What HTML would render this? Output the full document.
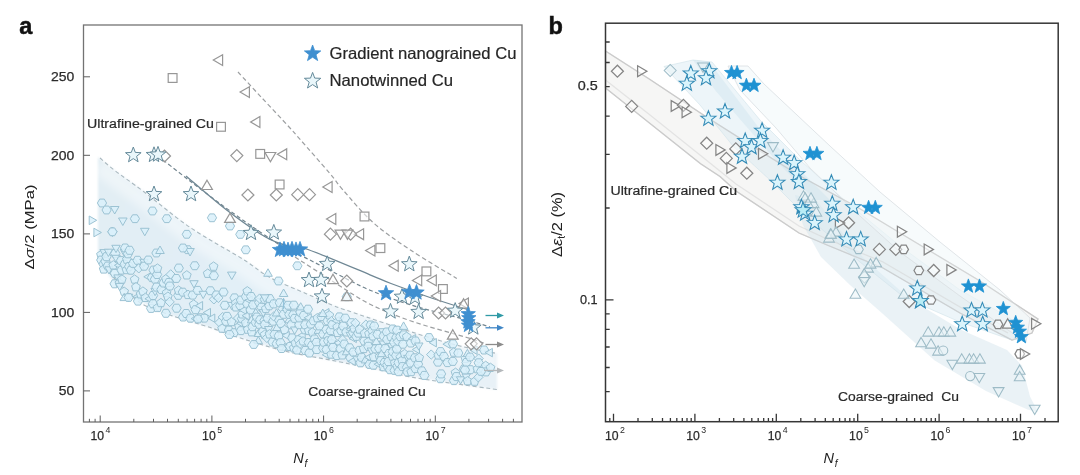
<!DOCTYPE html>
<html lang="en"><head><meta charset="utf-8"><title>Fatigue of gradient nanograined Cu</title>
<style>
html,body{margin:0;padding:0;background:#fff;}
body{width:1080px;height:475px;overflow:hidden;font-family:"Liberation Sans",sans-serif;}
svg{display:block;font-family:"Liberation Sans",sans-serif;filter:blur(.45px);}
.bandA{filter:blur(1.2px);}
.haloA{fill:none;stroke:#fff;stroke-opacity:.42;stroke-width:17;filter:blur(4px);}
.frame{fill:none;stroke:#737373;stroke-width:1.3;}
.frame2{fill:none;stroke:#363636;stroke-width:1.5;}
.tick{fill:none;stroke:#5e5e5e;stroke-width:1;}
.tick2{fill:none;stroke:#363636;stroke-width:1.3;}
.tl{font-size:13px;fill:#2b2b2b;stroke:#2b2b2b;stroke-width:.25;}
.nf{font-size:14.5px;font-style:italic;fill:#222;}
.nfs{font-size:10px;font-style:italic;fill:#222;}
.sup{font-size:8.8px;fill:#2b2b2b;stroke:none;}
.al{font-size:13px;fill:#222;}
.al2{font-size:15.5px;fill:#222;}
.sub2{font-size:10px;}
.it{font-style:italic;}
.sub{font-size:9px;}
.pl{font-size:23.5px;font-weight:bold;fill:#111;stroke:#111;stroke-width:0.5;}
.an{font-size:12.5px;fill:#2a2a2a;stroke:#2a2a2a;stroke-width:.2;}
.lg{font-size:16.5px;fill:#262626;stroke:#262626;stroke-width:.2;}
.dashA{fill:none;stroke:#9c9fa1;stroke-width:1.2;stroke-dasharray:4.5 2.8;}
.dashA2{fill:none;stroke:#a9b8bf;stroke-width:1.1;stroke-dasharray:4 2.8;}
.dashA3{fill:none;stroke:#72858f;stroke-width:1.2;stroke-dasharray:4 2.6;}
.solidA{fill:none;stroke:#6f8794;stroke-width:1.3;}
.stemA{fill:none;stroke:#8fc0d9;stroke-width:1;}
.lb .m{fill:#d9f0fa;fill-opacity:.85;stroke:#98c0d1;stroke-width:.95;}
.gr .m{fill:#fff;fill-opacity:.55;stroke:#979797;stroke-width:1.2;}
.gr2 .m{fill:#fff;fill-opacity:.45;stroke:#858585;stroke-width:1.25;}
.lb2 .m{fill:#e9f4f8;fill-opacity:.55;stroke:#9dbbc6;stroke-width:1.05;}
.osA .m,.osL{fill:#eaf7fb;stroke:#658a9a;stroke-width:1;}
.fsA .m,.fsL{fill:#3f8fd0;stroke:#3f8fd0;stroke-width:.8;stroke-linejoin:round;}
.csB{fill:#b9ecf5;stroke:#348bb6;stroke-width:1.05;}
.osB .m{fill:#daf4fc;stroke:#348bb6;stroke-width:1.05;}
.fsB .m{fill:#1f92d2;stroke:#1f92d2;stroke-width:.8;stroke-linejoin:round;}
.bGrey{fill:#f1f1ef;fill-opacity:.62;stroke:#cbcbcb;stroke-opacity:.9;stroke-width:1.25;}
.bGreyLine{fill:none;stroke:#c6c6c6;stroke-opacity:.55;stroke-width:1.2;}
.bGreyLine2{fill:none;stroke:#d2d2d2;stroke-opacity:.5;stroke-width:1.2;}
.bBlue{fill:#d6e9f2;fill-opacity:.45;stroke:#d0e2ea;stroke-opacity:.6;stroke-width:1;}
.bBlue2{fill:#d5e6ee;fill-opacity:.5;stroke:none;}
.bBlue4{fill:#c5dfec;fill-opacity:.35;stroke:none;}
.bBlue3{fill:#f1f7fa;fill-opacity:.55;stroke:#d9dfe2;stroke-opacity:.8;stroke-width:1;}
</style></head>
<body>
<svg width="1080" height="475" viewBox="0 0 1080 475">
<defs>
<linearGradient id="bandA" x1="0" y1="0" x2="1" y2="0.35">
<stop offset="0" stop-color="#e2eef4" stop-opacity="1"/>
<stop offset=".5" stop-color="#e2eff7" stop-opacity="1"/>
<stop offset="1" stop-color="#e8f1f7" stop-opacity="1"/>
</linearGradient>
</defs>
<rect x="0" y="0" width="1080" height="475" fill="#fff"/>
<g id="panel-a">
<path class="bandA" d="M98 157 C100.8 159.2 106.8 164.5 114.5 170.3 C122.2 176.1 131.6 182.5 144.2 192 C156.8 201.5 173.6 216.2 190 227.4 C206.4 238.6 229.3 250.7 242.6 259 C255.9 267.4 259.3 271.7 270 277.5 C280.7 283.3 296.5 289.3 306.8 293.9 C317.1 298.5 324.2 301.9 331.9 305 C339.6 308.1 339 307.8 353 312.5 C367 317.2 398.2 327.8 416 333.4 C433.8 339 446.5 342.6 460 346 C473.5 349.4 490.8 352.2 497 353.5 L497 389.5 L450 383 L410 376.8 L377.4 369.5 L335.3 361 L282.6 350.5 L230 334.7 L209.7 327.3 L170 315 L135.6 299.5 L112 280 L98 258Z" fill="url(#bandA)"/>
<path class="haloA" d="M99 166 C101.8 168.2 107.8 173.5 115.5 179.3 C123.2 185.1 132.6 191.5 145.2 201 C157.8 210.5 174.6 225.2 191 236.4 C207.4 247.6 230.3 259.6 243.6 268 C256.9 276.4 260.3 280.7 271 286.5 C281.7 292.3 297.5 298.3 307.8 302.9 C318.1 307.5 325.2 310.9 332.9 314 C340.6 317.1 340 316.8 354 321.5 C368 326.2 399.2 336.8 417 342.4 C434.8 348 447.5 351.6 461 355 C474.5 358.4 491.8 361.2 498 362.5"/>
<path class="dashA" d="M238 72 C242 76.3 253.3 88.7 262 98 C270.7 107.3 283.6 121 290 128 C296.4 135 293.9 132.4 300.6 140 C307.3 147.6 322.9 165.3 330 173.6 C337.1 181.9 335.8 181.8 343 190 C350.2 198.2 362 212.7 373.4 222.8 C384.8 232.9 397.4 241.3 411.3 250.6 C425.2 259.9 449.2 273.8 456.8 278.4"/>
<path class="dashA2" d="M100 158 C102.4 160.1 107.1 164.6 114.5 170.3 C121.9 176 131.6 182.5 144.2 192 C156.8 201.5 173.6 216.2 190 227.4 C206.4 238.6 229.3 250.7 242.6 259 C255.9 267.4 259.3 271.7 270 277.5 C280.7 283.3 296.5 289.3 306.8 293.9 C317.1 298.5 324.2 301.9 331.9 305 C339.6 308.1 339 307.8 353 312.5 C367 317.2 398.2 327.8 416 333.4 C433.8 339 446.5 342.6 460 346 C473.5 349.4 490.8 352.2 497 353.5"/>
<path class="dashA2" d="M100 262 C105.9 268.2 123.9 290.7 135.6 299.5 C147.3 308.3 157.7 310.4 170 315 C182.3 319.6 199.7 324 209.7 327.3 C219.7 330.6 217.8 330.8 230 334.7 C242.2 338.6 265.1 346.1 282.6 350.5 C300.2 354.9 319.5 357.8 335.3 361 C351.1 364.2 364.9 366.9 377.4 369.5 C389.8 372.1 397.9 374.6 410 376.8 C422.1 379.1 435.5 380.9 450 383 C464.5 385.1 489.2 388.4 497 389.5"/>
<path class="dashA" d="M295 257 C301.9 261.4 323.8 275.7 336.3 283.6 C348.8 291.5 357.6 298 370 304.2 C382.4 310.4 394.9 315.4 411 321 C427.1 326.6 454.3 333.7 466.8 337.5 C479.3 341.3 482.8 342.8 486 343.8"/>
<path class="dashA3" d="M158 156 C163.3 160.2 178.7 172.3 190 181 C201.3 189.7 214.3 199.5 226 208 C237.7 216.5 250.2 225.3 260 232 C269.8 238.7 277.7 243.8 285 248 C292.3 252.2 295.2 252.7 303.9 257 C312.6 261.3 326 268.5 337 274 C348 279.5 357.7 285 370 290.2 C382.3 295.4 394.9 300 411 305 C427.1 310 453.6 316.3 466.8 320 C480 323.7 486.1 325.8 490 327"/>
<path class="solidA" d="M186 176 C192.7 181.6 212.7 199.3 226 209.5 C239.3 219.7 255.3 231.1 266 237.3 C276.7 243.5 283 244.5 290 246.5 C297 248.5 294.7 244.8 308 249.5 C321.3 254.2 356.2 269.1 370 274.8 C383.8 280.5 381 279.7 391 283.5 C401 287.3 417.3 293.2 430 297.5 C442.7 301.8 460.8 307.4 467 309.4"/>
<g class="lb">
<polygon class="m" points="101,250.3 105.4,253.4 103.7,258.6 98.3,258.6 96.6,253.4"/>
<polygon class="m" points="105.8,260 103.5,264 98.9,264 96.6,260 98.9,256.1 103.5,256.1"/>
<polygon class="m" points="108.2,264.1 105.9,268.1 101.2,268.1 98.9,264.1 101.2,260.1 105.9,260.1"/>
<polygon class="m" points="103.7,264.7 108.1,267.9 106.4,273.1 101,273.1 99.3,267.9"/>
<polygon class="m" points="104.1,256.8 99.9,249.6 108.3,249.6"/>
<polygon class="m" points="110.1,261.2 107.8,265.2 103.2,265.2 100.9,261.2 103.2,257.2 107.8,257.2"/>
<polygon class="m" points="111.1,256.7 108.8,260.7 104.1,260.7 101.8,256.7 104.1,252.7 108.8,252.7"/>
<polygon class="m" points="112.3,266.1 110,270.1 105.4,270.1 103.1,266.1 105.4,262.1 110,262.1"/>
<polygon class="m" points="108.4,256.5 104.2,249.2 112.6,249.2"/>
<polygon class="m" points="109,274 104.8,266.8 113.1,266.8"/>
<polygon class="m" points="113.3,260.7 117.6,263.9 116,269 110.5,269 108.9,263.9"/>
<polygon class="m" points="119.2,283.8 116.9,287.8 112.3,287.8 110,283.8 112.3,279.8 116.9,279.8"/>
<polygon class="m" points="119.4,273.3 117.1,277.3 112.5,277.3 110.2,273.3 112.5,269.4 117.1,269.4"/>
<polygon class="m" points="119.9,253.4 117.6,257.4 112.9,257.4 110.6,253.4 112.9,249.4 117.6,249.4"/>
<polygon class="m" points="116,252.6 111.8,245.3 120.2,245.3"/>
<polygon class="m" points="116.1,262.5 111.9,255.3 120.3,255.3"/>
<polygon class="m" points="118,282.1 113.8,274.9 122.2,274.9"/>
<polygon class="m" points="114.4,265.3 121.7,261.1 121.7,269.5"/>
<polygon class="m" points="119.4,278.6 123.8,281.8 122.1,286.9 116.7,286.9 115,281.8"/>
<polygon class="m" points="119.7,290.6 115.5,283.4 123.9,283.4"/>
<polygon class="m" points="125.5,260.6 123.2,264.6 118.6,264.6 116.3,260.6 118.6,256.6 123.2,256.6"/>
<polygon class="m" points="126.1,270.1 123.8,274.1 119.2,274.1 116.9,270.1 119.2,266.1 123.8,266.1"/>
<polygon class="m" points="121.9,274.9 126.2,278 124.6,283.2 119.2,283.2 117.5,278"/>
<polygon class="m" points="124.1,287 128.5,290.2 126.8,295.3 121.4,295.3 119.7,290.2"/>
<polygon class="m" points="124.2,293.4 128.4,300.6 120,300.6"/>
<polygon class="m" points="124.2,256.4 120.1,249.1 128.4,249.1"/>
<polygon class="m" points="129.2,264.3 126.9,268.3 122.3,268.3 120,264.3 122.3,260.3 126.9,260.3"/>
<polygon class="m" points="129.7,248 127.4,251.9 122.8,251.9 120.5,248 122.8,244 127.4,244"/>
<polygon class="m" points="126.5,265.4 130.9,268.6 129.2,273.7 123.8,273.7 122.1,268.6"/>
<polygon class="m" points="126.9,255 131.3,258.2 129.6,263.3 124.2,263.3 122.5,258.2"/>
<polygon class="m" points="132.6,253.8 130.3,257.8 125.7,257.8 123.4,253.8 125.7,249.8 130.3,249.8"/>
<polygon class="m" points="128.6,301.5 124.4,294.2 132.8,294.2"/>
<polygon class="m" points="133.7,266.4 131.4,270.4 126.8,270.4 124.5,266.4 126.8,262.5 131.4,262.5"/>
<polygon class="m" points="134.2,250.3 131.9,254.3 127.3,254.3 125,250.3 127.3,246.3 131.9,246.3"/>
<polygon class="m" points="135.5,270.2 133.2,274.2 128.6,274.2 126.3,270.2 128.6,266.2 133.2,266.2"/>
<polygon class="m" points="137.7,263.4 135.4,267.4 130.8,267.4 128.5,263.4 130.8,259.4 135.4,259.4"/>
<polygon class="m" points="134.6,274.9 139,278.1 137.3,283.2 131.9,283.2 130.3,278.1"/>
<polygon class="m" points="136,282.5 140.3,285.7 138.7,290.9 133.2,290.9 131.6,285.7"/>
<polygon class="m" points="133.2,296.5 140.5,292.3 140.5,300.7"/>
<polygon class="m" points="142.1,260.3 139.8,264.3 135.2,264.3 132.9,260.3 135.2,256.3 139.8,256.3"/>
<polygon class="m" points="142.6,301.1 140.3,305.1 135.7,305.1 133.4,301.1 135.7,297.1 140.3,297.1"/>
<polygon class="m" points="143.5,268.3 138.8,273 134.1,268.3 138.8,263.7"/>
<polygon class="m" points="140.6,289.6 145,292.8 143.3,298 137.9,298 136.2,292.8"/>
<polygon class="m" points="142.9,286.9 147.3,290.1 145.6,295.2 140.2,295.2 138.6,290.1"/>
<polygon class="m" points="144,266.6 139.8,259.3 148.1,259.3"/>
<polygon class="m" points="148.7,266.2 146.4,270.2 141.8,270.2 139.5,266.2 141.8,262.2 146.4,262.2"/>
<polygon class="m" points="145.4,293.2 149.8,296.4 148.1,301.5 142.7,301.5 141,296.4"/>
<polygon class="m" points="143.8,276.8 151.1,272.6 151.1,281"/>
<polygon class="m" points="144.9,298.8 152.2,294.6 152.2,303"/>
<polygon class="m" points="155.7,308.4 153.4,312.4 148.8,312.4 146.5,308.4 148.8,304.4 153.4,304.4"/>
<polygon class="m" points="156.5,277.6 154.2,281.6 149.6,281.6 147.3,277.6 149.6,273.7 154.2,273.7"/>
<polygon class="m" points="157.6,303.8 155.3,307.7 150.7,307.7 148.3,303.8 150.7,299.8 155.3,299.8"/>
<polygon class="m" points="157.7,295.5 155.4,299.5 150.7,299.5 148.4,295.5 150.7,291.5 155.4,291.5"/>
<polygon class="m" points="158.1,270.1 155.8,274.1 151.2,274.1 148.9,270.1 151.2,266.1 155.8,266.1"/>
<polygon class="m" points="159.6,279.2 157.3,283.2 152.7,283.2 150.3,279.2 152.7,275.2 157.3,275.2"/>
<polygon class="m" points="155.1,295.7 150.9,288.4 159.3,288.4"/>
<polygon class="m" points="161.2,287.1 158.9,291.1 154.3,291.1 151.9,287.1 154.3,283.1 158.9,283.1"/>
<polygon class="m" points="161.7,274.5 159.4,278.5 154.8,278.5 152.5,274.5 154.8,270.5 159.4,270.5"/>
<polygon class="m" points="157.4,263.9 161.8,267.1 160.2,272.3 154.7,272.3 153.1,267.1"/>
<polygon class="m" points="157.5,303.3 161.8,306.4 160.2,311.6 154.7,311.6 153.1,306.4"/>
<polygon class="m" points="160.9,298.4 165.3,301.6 163.6,306.7 158.2,306.7 156.5,301.6"/>
<polygon class="m" points="166,289.6 163.7,293.6 159.1,293.6 156.8,289.6 159.1,285.6 163.7,285.6"/>
<polygon class="m" points="168.2,283 165.9,287 161.3,287 159,283 161.3,279 165.9,279"/>
<polygon class="m" points="170.5,313.3 168.2,317.3 163.6,317.3 161.3,313.3 163.6,309.3 168.2,309.3"/>
<polygon class="m" points="165.9,274.5 170.3,277.7 168.7,282.8 163.2,282.8 161.6,277.7"/>
<polygon class="m" points="166.5,288.4 170.9,291.5 169.2,296.7 163.8,296.7 162.2,291.5"/>
<polygon class="m" points="167.9,292 172.2,295.2 170.6,300.3 165.1,300.3 163.5,295.2"/>
<polygon class="m" points="173.5,282.5 171.2,286.5 166.6,286.5 164.3,282.5 166.6,278.5 171.2,278.5"/>
<polygon class="m" points="174.3,301.9 169.6,306.6 164.9,301.9 169.6,297.2"/>
<polygon class="m" points="174.4,286 172.1,290 167.5,290 165.2,286 167.5,282.1 172.1,282.1"/>
<polygon class="m" points="175.4,274.4 170.7,279.1 166,274.4 170.7,269.7"/>
<polygon class="m" points="180.9,278.5 178.6,282.4 174,282.4 171.7,278.5 174,274.5 178.6,274.5"/>
<polygon class="m" points="181.2,308.2 178.9,312.2 174.3,312.2 172,308.2 174.3,304.2 178.9,304.2"/>
<polygon class="m" points="182.9,295.3 180.6,299.3 176,299.3 173.7,295.3 176,291.3 180.6,291.3"/>
<polygon class="m" points="178.6,285.9 183,289.1 181.3,294.3 175.9,294.3 174.2,289.1"/>
<polygon class="m" points="183.4,268.1 181.1,272 176.5,272 174.2,268.1 176.5,264.1 181.1,264.1"/>
<polygon class="m" points="187.4,292.1 185.1,296.1 180.5,296.1 178.2,292.1 180.5,288.2 185.1,288.2"/>
<polygon class="m" points="187.7,317.1 185.4,321 180.8,321 178.5,317.1 180.8,313.1 185.4,313.1"/>
<polygon class="m" points="190.8,313.5 188.5,317.5 183.9,317.5 181.6,313.5 183.9,309.5 188.5,309.5"/>
<polygon class="m" points="186.8,270.7 191.2,273.9 189.5,279 184.1,279 182.4,273.9"/>
<polygon class="m" points="188,290.2 192.4,293.4 190.7,298.6 185.3,298.6 183.6,293.4"/>
<polygon class="m" points="195,318.2 192.7,322.2 188.1,322.2 185.8,318.2 188.1,314.2 192.7,314.2"/>
<polygon class="m" points="197.3,295.1 195,299.1 190.4,299.1 188,295.1 190.4,291.1 195,291.1"/>
<polygon class="m" points="193.7,299.9 198,303.1 196.4,308.2 190.9,308.2 189.3,303.1"/>
<polygon class="m" points="194,288 189.8,280.7 198.2,280.7"/>
<polygon class="m" points="199.3,265.7 197,269.7 192.4,269.7 190.1,265.7 192.4,261.8 197,261.8"/>
<polygon class="m" points="191.2,318.6 198.4,314.4 198.4,322.8"/>
<polygon class="m" points="200.2,309.7 197.9,313.7 193.3,313.7 191,309.7 193.3,305.7 197.9,305.7"/>
<polygon class="m" points="202.2,290.4 199.9,294.3 195.3,294.3 193,290.4 195.3,286.4 199.9,286.4"/>
<polygon class="m" points="195.4,305.7 202.6,301.5 202.6,309.9"/>
<polygon class="m" points="205,317.8 202.7,321.7 198.1,321.7 195.8,317.8 198.1,313.8 202.7,313.8"/>
<polygon class="m" points="203.2,298.6 199,291.3 207.4,291.3"/>
<polygon class="m" points="208.9,318.2 206.6,322.1 202,322.1 199.7,318.2 202,314.2 206.6,314.2"/>
<polygon class="m" points="203.2,312.6 210.5,308.4 210.5,316.8"/>
<polygon class="m" points="207.7,269 212.1,272.2 210.4,277.4 205,277.4 203.3,272.2"/>
<polygon class="m" points="215,290.7 212.7,294.7 208.1,294.7 205.8,290.7 208.1,286.8 212.7,286.8"/>
<polygon class="m" points="207.6,318.1 214.8,314 214.8,322.3"/>
<polygon class="m" points="213.6,261.9 218,265.1 216.3,270.3 210.9,270.3 209.2,265.1"/>
<polygon class="m" points="218.5,275.7 216.2,279.7 211.6,279.7 209.2,275.7 211.6,271.7 216.2,271.7"/>
<polygon class="m" points="218.6,299.3 213.9,304 209.2,299.3 213.9,294.7"/>
<polygon class="m" points="220.9,295 218.6,299 214,299 211.7,295 214,291 218.6,291"/>
<polygon class="m" points="223,297.9 218.4,302.6 213.7,297.9 218.4,293.3"/>
<polygon class="m" points="224.2,322.5 219.5,327.2 214.8,322.5 219.5,317.8"/>
<polygon class="m" points="222.1,323.9 226.5,327.1 224.8,332.3 219.4,332.3 217.7,327.1"/>
<polygon class="m" points="227.4,317.1 222.7,321.8 218.1,317.1 222.7,312.4"/>
<polygon class="m" points="228.1,292.1 225.8,296 221.2,296 218.9,292.1 221.2,288.1 225.8,288.1"/>
<polygon class="m" points="229.4,305.3 227.1,309.3 222.5,309.3 220.2,305.3 222.5,301.3 227.1,301.3"/>
<polygon class="m" points="230.6,321.3 228.3,325.3 223.7,325.3 221.4,321.3 223.7,317.3 228.3,317.3"/>
<polygon class="m" points="231.6,316.4 229.3,320.4 224.7,320.4 222.4,316.4 224.7,312.4 229.3,312.4"/>
<polygon class="m" points="233.5,330.1 231.2,334 226.6,334 224.3,330.1 226.6,326.1 231.2,326.1"/>
<polygon class="m" points="231.4,317.4 235.8,320.6 234.1,325.7 228.7,325.7 227,320.6"/>
<polygon class="m" points="231.7,309.7 227.5,302.4 235.9,302.4"/>
<polygon class="m" points="238.6,332.6 236.3,336.6 231.7,336.6 229.4,332.6 231.7,328.7 236.3,328.7"/>
<polygon class="m" points="239.1,297.9 236.8,301.9 232.2,301.9 229.9,297.9 232.2,293.9 236.8,293.9"/>
<polygon class="m" points="235.7,298.7 240.1,301.9 238.4,307 233,307 231.3,301.9"/>
<polygon class="m" points="235.9,302.7 240.3,305.9 238.6,311 233.2,311 231.5,305.9"/>
<polygon class="m" points="242.8,318.1 238.1,322.7 233.4,318.1 238.1,313.4"/>
<polygon class="m" points="239,322.1 243.4,325.3 241.7,330.5 236.3,330.5 234.7,325.3"/>
<polygon class="m" points="244.8,305.5 242.5,309.5 237.9,309.5 235.6,305.5 237.9,301.5 242.5,301.5"/>
<polygon class="m" points="236.5,323.2 243.7,319 243.7,327.4"/>
<polygon class="m" points="245.5,300.1 243.2,304.1 238.6,304.1 236.3,300.1 238.6,296.1 243.2,296.1"/>
<polygon class="m" points="245.6,330.6 243.3,334.6 238.7,334.6 236.4,330.6 238.7,326.7 243.3,326.7"/>
<polygon class="m" points="246.6,318.7 244.3,322.7 239.7,322.7 237.4,318.7 239.7,314.7 244.3,314.7"/>
<polygon class="m" points="242.2,309.7 246.5,312.8 244.9,318 239.5,318 237.8,312.8"/>
<polygon class="m" points="239.2,310.2 246.5,306 246.5,314.4"/>
<polygon class="m" points="245.6,318.4 250,321.6 248.4,326.7 242.9,326.7 241.3,321.6"/>
<polygon class="m" points="250.5,296.6 248.2,300.6 243.6,300.6 241.3,296.6 243.6,292.6 248.2,292.6"/>
<polygon class="m" points="242.1,315.7 249.3,311.5 249.3,319.9"/>
<polygon class="m" points="251.7,303.9 249.4,307.9 244.8,307.9 242.5,303.9 244.8,299.9 249.4,299.9"/>
<polygon class="m" points="247.3,286.6 251.7,289.8 250,294.9 244.6,294.9 242.9,289.8"/>
<polygon class="m" points="247.7,325 252,328.2 250.4,333.3 245,333.3 243.3,328.2"/>
<polygon class="m" points="245,300.3 252.2,296.1 252.2,304.4"/>
<polygon class="m" points="255.1,309.9 252.8,313.9 248.2,313.9 245.9,309.9 248.2,305.9 252.8,305.9"/>
<polygon class="m" points="255.7,296.5 253.4,300.5 248.8,300.5 246.5,296.5 248.8,292.5 253.4,292.5"/>
<polygon class="m" points="251.5,315.6 255.7,322.9 247.3,322.9"/>
<polygon class="m" points="251.7,327.6 256,330.8 254.4,335.9 249,335.9 247.3,330.8"/>
<polygon class="m" points="257,326.8 254.7,330.7 250.1,330.7 247.8,326.8 250.1,322.8 254.7,322.8"/>
<polygon class="m" points="257.6,304.9 255.3,308.9 250.7,308.9 248.4,304.9 250.7,300.9 255.3,300.9"/>
<polygon class="m" points="260.2,322.3 257.9,326.3 253.3,326.3 251,322.3 253.3,318.4 257.9,318.4"/>
<polygon class="m" points="255.7,308.3 259.9,315.5 251.5,315.5"/>
<polygon class="m" points="261.5,317.1 259.2,321.1 254.6,321.1 252.3,317.1 254.6,313.1 259.2,313.1"/>
<polygon class="m" points="258.3,336.5 262.5,343.7 254.1,343.7"/>
<polygon class="m" points="258.4,329.3 262.5,336.5 254.2,336.5"/>
<polygon class="m" points="263.8,302.5 261.5,306.5 256.9,306.5 254.5,302.5 256.9,298.5 261.5,298.5"/>
<polygon class="m" points="263.8,324.3 261.5,328.3 256.9,328.3 254.6,324.3 256.9,320.3 261.5,320.3"/>
<polygon class="m" points="264.3,298.6 259.6,303.2 254.9,298.6 259.6,293.9"/>
<polygon class="m" points="264.7,319.8 262.4,323.7 257.8,323.7 255.5,319.8 257.8,315.8 262.4,315.8"/>
<polygon class="m" points="266.1,307.2 263.8,311.2 259.2,311.2 256.9,307.2 259.2,303.3 263.8,303.3"/>
<polygon class="m" points="267.2,331.7 264.9,335.7 260.3,335.7 258,331.7 260.3,327.7 264.9,327.7"/>
<polygon class="m" points="263.3,316.8 259.1,309.6 267.5,309.6"/>
<polygon class="m" points="269,320.7 266.7,324.7 262.1,324.7 259.8,320.7 262.1,316.8 266.7,316.8"/>
<polygon class="m" points="264.6,330.2 269,333.4 267.3,338.6 261.9,338.6 260.2,333.4"/>
<polygon class="m" points="269.4,324.5 267.1,328.5 262.5,328.5 260.2,324.5 262.5,320.5 267.1,320.5"/>
<polygon class="m" points="269.4,299.4 267.1,303.4 262.5,303.4 260.2,299.4 262.5,295.4 267.1,295.4"/>
<polygon class="m" points="265.8,304.3 270.2,307.5 268.5,312.6 263.1,312.6 261.4,307.5"/>
<polygon class="m" points="271.5,337.9 266.8,342.6 262.2,337.9 266.8,333.2"/>
<polygon class="m" points="272.2,318.2 269.9,322.2 265.3,322.2 263,318.2 265.3,314.2 269.9,314.2"/>
<polygon class="m" points="268.6,333.7 264.5,326.5 272.8,326.5"/>
<polygon class="m" points="273.9,305.8 271.6,309.8 267,309.8 264.7,305.8 267,301.8 271.6,301.8"/>
<polygon class="m" points="269.5,329.6 273.9,332.8 272.2,338 266.8,338 265.1,332.8"/>
<polygon class="m" points="274.2,298.6 271.9,302.6 267.3,302.6 265,298.6 267.3,294.6 271.9,294.6"/>
<polygon class="m" points="277.1,342 274.8,346 270.2,346 267.9,342 270.2,338 274.8,338"/>
<polygon class="m" points="277.8,321.2 275.5,325.2 270.9,325.2 268.5,321.2 270.9,317.2 275.5,317.2"/>
<polygon class="m" points="278.3,303.9 276,307.9 271.4,307.9 269.1,303.9 271.4,299.9 276,299.9"/>
<polygon class="m" points="278.5,316.4 273.8,321.1 269.1,316.4 273.8,311.7"/>
<polygon class="m" points="279.1,334.3 276.8,338.3 272.2,338.3 269.9,334.3 272.2,330.3 276.8,330.3"/>
<polygon class="m" points="276.5,308.7 280.6,316 272.3,316"/>
<polygon class="m" points="281.3,343.7 279,347.7 274.4,347.7 272.1,343.7 274.4,339.7 279,339.7"/>
<polygon class="m" points="276.9,323.3 281.1,330.6 272.7,330.6"/>
<polygon class="m" points="283.4,335.9 281.1,339.9 276.4,339.9 274.1,335.9 276.4,331.9 281.1,331.9"/>
<polygon class="m" points="283.7,320.2 281.4,324.2 276.8,324.2 274.5,320.2 276.8,316.2 281.4,316.2"/>
<polygon class="m" points="284.3,302.8 282,306.8 277.4,306.8 275.1,302.8 277.4,298.8 282,298.8"/>
<polygon class="m" points="285.1,342.7 282.8,346.7 278.2,346.7 275.9,342.7 278.2,338.7 282.8,338.7"/>
<polygon class="m" points="285.5,323.4 283.2,327.4 278.6,327.4 276.3,323.4 278.6,319.4 283.2,319.4"/>
<polygon class="m" points="287.3,308.8 282.6,313.4 277.9,308.8 282.6,304.1"/>
<polygon class="m" points="288.2,314.3 285.9,318.3 281.3,318.3 279,314.3 281.3,310.4 285.9,310.4"/>
<polygon class="m" points="283.8,299 288,306.3 279.6,306.3"/>
<polygon class="m" points="284.6,325.3 289,328.5 287.3,333.7 281.9,333.7 280.2,328.5"/>
<polygon class="m" points="282,335.6 289.3,331.4 289.3,339.8"/>
<polygon class="m" points="286.1,343.1 290.3,350.3 281.9,350.3"/>
<polygon class="m" points="291.5,308.7 289.2,312.7 284.6,312.7 282.3,308.7 284.6,304.7 289.2,304.7"/>
<polygon class="m" points="292.8,305.3 290.5,309.2 285.8,309.2 283.5,305.3 285.8,301.3 290.5,301.3"/>
<polygon class="m" points="289,315.6 293.2,322.8 284.8,322.8"/>
<polygon class="m" points="293.9,314.4 291.6,318.4 287,318.4 284.7,314.4 287,310.4 291.6,310.4"/>
<polygon class="m" points="294.6,346.5 292.3,350.5 287.7,350.5 285.4,346.5 287.7,342.5 292.3,342.5"/>
<polygon class="m" points="295.9,324.8 293.6,328.8 289,328.8 286.7,324.8 289,320.8 293.6,320.8"/>
<polygon class="m" points="296.7,337.9 294.4,341.9 289.8,341.9 287.5,337.9 289.8,333.9 294.4,333.9"/>
<polygon class="m" points="297.9,314.8 295.5,318.8 290.9,318.8 288.6,314.8 290.9,310.8 295.5,310.8"/>
<polygon class="m" points="298.4,305.2 296.1,309.2 291.5,309.2 289.2,305.2 291.5,301.2 296.1,301.2"/>
<polygon class="m" points="293.8,343.5 298.2,346.7 296.5,351.8 291.1,351.8 289.4,346.7"/>
<polygon class="m" points="299.2,318.4 296.9,322.4 292.3,322.4 290,318.4 292.3,314.4 296.9,314.4"/>
<polygon class="m" points="294.7,334.3 290.5,327 298.9,327"/>
<polygon class="m" points="295.3,338.6 299.7,341.8 298,346.9 292.6,346.9 290.9,341.8"/>
<polygon class="m" points="301.6,350 299.3,354 294.7,354 292.4,350 294.7,346 299.3,346"/>
<polygon class="m" points="303.3,339.7 301,343.7 296.4,343.7 294.1,339.7 296.4,335.7 301,335.7"/>
<polygon class="m" points="303.8,324.7 301.5,328.7 296.9,328.7 294.6,324.7 296.9,320.7 301.5,320.7"/>
<polygon class="m" points="303.9,317.9 301.6,321.9 297,321.9 294.7,317.9 297,313.9 301.6,313.9"/>
<polygon class="m" points="304.7,343.8 300,348.4 295.3,343.8 300,339.1"/>
<polygon class="m" points="305,312.1 302.7,316.1 298,316.1 295.7,312.1 298,308.1 302.7,308.1"/>
<polygon class="m" points="300.7,302.7 304.9,309.9 296.5,309.9"/>
<polygon class="m" points="298,335.3 305.2,331.1 305.2,339.5"/>
<polygon class="m" points="303,336.7 307.4,339.9 305.8,345 300.3,345 298.7,339.9"/>
<polygon class="m" points="308.3,315.5 306,319.5 301.4,319.5 299.1,315.5 301.4,311.5 306,311.5"/>
<polygon class="m" points="309.5,329.8 307.2,333.8 302.6,333.8 300.3,329.8 302.6,325.9 307.2,325.9"/>
<polygon class="m" points="309.7,324.8 307.4,328.8 302.8,328.8 300.5,324.8 302.8,320.8 307.4,320.8"/>
<polygon class="m" points="309.9,350.5 307.6,354.5 303,354.5 300.7,350.5 303,346.5 307.6,346.5"/>
<polygon class="m" points="304.1,317.8 311.3,313.6 311.3,322"/>
<polygon class="m" points="312.6,309.2 310.3,313.2 305.7,313.2 303.4,309.2 305.7,305.2 310.3,305.2"/>
<polygon class="m" points="313.3,342.4 311,346.4 306.4,346.4 304.1,342.4 306.4,338.5 311,338.5"/>
<polygon class="m" points="308.8,326.3 313.2,329.4 311.5,334.6 306.1,334.6 304.4,329.4"/>
<polygon class="m" points="313.9,353 311.6,357 307,357 304.7,353 307,349 311.6,349"/>
<polygon class="m" points="315.4,324.2 313.1,328.1 308.5,328.1 306.2,324.2 308.5,320.2 313.1,320.2"/>
<polygon class="m" points="316.5,345.4 314.2,349.3 309.6,349.3 307.3,345.4 309.6,341.4 314.2,341.4"/>
<polygon class="m" points="312.4,327.9 316.8,331.1 315.1,336.2 309.7,336.2 308,331.1"/>
<polygon class="m" points="318.1,320.8 315.8,324.7 311.2,324.7 308.9,320.8 311.2,316.8 315.8,316.8"/>
<polygon class="m" points="319.1,339 316.8,343 312.2,343 309.9,339 312.2,335 316.8,335"/>
<polygon class="m" points="321.1,342.4 318.8,346.4 314.2,346.4 311.9,342.4 314.2,338.4 318.8,338.4"/>
<polygon class="m" points="321.4,349.6 319.1,353.5 314.4,353.5 312.1,349.6 314.4,345.6 319.1,345.6"/>
<polygon class="m" points="317.4,313.5 321.8,316.7 320.1,321.9 314.7,321.9 313,316.7"/>
<polygon class="m" points="318.2,326.2 322.4,333.4 314,333.4"/>
<polygon class="m" points="324,325.9 321.7,329.9 317.1,329.9 314.8,325.9 317.1,321.9 321.7,321.9"/>
<polygon class="m" points="326.2,316.7 323.9,320.6 319.3,320.6 317,316.7 319.3,312.7 323.9,312.7"/>
<polygon class="m" points="327.7,334.1 325.4,338 320.8,338 318.5,334.1 320.8,330.1 325.4,330.1"/>
<polygon class="m" points="327.7,348.1 325.4,352 320.8,352 318.5,348.1 320.8,344.1 325.4,344.1"/>
<polygon class="m" points="328.4,342.2 326.1,346.2 321.5,346.2 319.2,342.2 321.5,338.2 326.1,338.2"/>
<polygon class="m" points="321.8,312.7 329,308.5 329,316.8"/>
<polygon class="m" points="322.2,354.8 329.5,350.6 329.5,358.9"/>
<polygon class="m" points="331,329.6 328.7,333.6 324.1,333.6 321.8,329.6 324.1,325.6 328.7,325.6"/>
<polygon class="m" points="331.2,349.5 328.9,353.5 324.3,353.5 322,349.5 324.3,345.5 328.9,345.5"/>
<polygon class="m" points="332.1,320.8 329.8,324.8 325.2,324.8 322.9,320.8 325.2,316.9 329.8,316.9"/>
<polygon class="m" points="332.6,336.7 330.3,340.6 325.7,340.6 323.4,336.7 325.7,332.7 330.3,332.7"/>
<polygon class="m" points="332.7,340.8 330.4,344.8 325.8,344.8 323.5,340.8 325.8,336.8 330.4,336.8"/>
<polygon class="m" points="329.3,310.7 333.7,313.9 332,319 326.6,319 324.9,313.9"/>
<polygon class="m" points="335.2,330.6 332.9,334.6 328.3,334.6 326,330.6 328.3,326.7 332.9,326.7"/>
<polygon class="m" points="331.2,349.8 335.6,353 333.9,358.2 328.5,358.2 326.8,353"/>
<polygon class="m" points="336.1,321.1 331.4,325.8 326.7,321.1 331.4,316.4"/>
<polygon class="m" points="336,343.9 333.7,347.9 329.1,347.9 326.8,343.9 329.1,339.9 333.7,339.9"/>
<polygon class="m" points="336.4,339.6 334.1,343.6 329.5,343.6 327.2,339.6 329.5,335.6 334.1,335.6"/>
<polygon class="m" points="336.8,324.7 334.5,328.7 329.9,328.7 327.6,324.7 329.9,320.7 334.5,320.7"/>
<polygon class="m" points="337.6,347.4 335.3,351.4 330.7,351.4 328.4,347.4 330.7,343.4 335.3,343.4"/>
<polygon class="m" points="332.1,320.8 339.4,316.6 339.4,325"/>
<polygon class="m" points="341.4,355.6 339.1,359.6 334.5,359.6 332.2,355.6 334.5,351.6 339.1,351.6"/>
<polygon class="m" points="337.1,322.5 341.5,325.7 339.8,330.8 334.4,330.8 332.8,325.7"/>
<polygon class="m" points="337.5,328.2 341.9,331.4 340.2,336.6 334.8,336.6 333.1,331.4"/>
<polygon class="m" points="333.9,342.9 341.2,338.8 341.2,347.1"/>
<polygon class="m" points="344,316.9 341.7,320.8 337.1,320.8 334.8,316.9 337.1,312.9 341.7,312.9"/>
<polygon class="m" points="345.1,348.8 342.8,352.8 338.1,352.8 335.8,348.8 338.1,344.8 342.8,344.8"/>
<polygon class="m" points="345.8,330.8 343.5,334.8 338.9,334.8 336.6,330.8 338.9,326.8 343.5,326.8"/>
<polygon class="m" points="342.2,350.7 346.6,353.9 344.9,359 339.5,359 337.8,353.9"/>
<polygon class="m" points="347.2,339.8 342.5,344.4 337.8,339.8 342.5,335.1"/>
<polygon class="m" points="347.7,326 345.4,330 340.8,330 338.5,326 340.8,322 345.4,322"/>
<polygon class="m" points="348.9,344.1 346.6,348 342,348 339.7,344.1 342,340.1 346.6,340.1"/>
<polygon class="m" points="349.8,318.2 347.5,322.1 342.9,322.1 340.6,318.2 342.9,314.2 347.5,314.2"/>
<polygon class="m" points="350.9,332 348.6,336 344,336 341.7,332 344,328 348.6,328"/>
<polygon class="m" points="346.5,347.6 350.7,354.8 342.3,354.8"/>
<polygon class="m" points="354.2,347.8 351.9,351.8 347.3,351.8 345,347.8 347.3,343.8 351.9,343.8"/>
<polygon class="m" points="346.3,329.5 353.6,325.3 353.6,333.7"/>
<polygon class="m" points="350.2,339.5 346,332.3 354.4,332.3"/>
<polygon class="m" points="355,357.9 352.7,361.9 348.1,361.9 345.8,357.9 348.1,353.9 352.7,353.9"/>
<polygon class="m" points="356,322.7 353.7,326.6 349.1,326.6 346.8,322.7 349.1,318.7 353.7,318.7"/>
<polygon class="m" points="348,361.2 355.3,357 355.3,365.4"/>
<polygon class="m" points="357.6,332.4 355.3,336.4 350.7,336.4 348.4,332.4 350.7,328.5 355.3,328.5"/>
<polygon class="m" points="349.1,338.4 356.4,334.2 356.4,342.6"/>
<polygon class="m" points="357.9,352.1 355.6,356.1 351,356.1 348.7,352.1 351,348.1 355.6,348.1"/>
<polygon class="m" points="354,323.8 358.4,327 356.7,332.2 351.3,332.2 349.7,327"/>
<polygon class="m" points="360.1,322.9 355.4,327.6 350.7,322.9 355.4,318.2"/>
<polygon class="m" points="360.9,336.4 358.6,340.4 354,340.4 351.7,336.4 354,332.4 358.6,332.4"/>
<polygon class="m" points="356.8,363.5 352.6,356.2 361,356.2"/>
<polygon class="m" points="362.9,333.1 360.6,337.1 355.9,337.1 353.6,333.1 355.9,329.1 360.6,329.1"/>
<polygon class="m" points="359.4,324.8 363.8,328 362.2,333.2 356.7,333.2 355.1,328"/>
<polygon class="m" points="364.1,350.4 361.8,354.4 357.2,354.4 354.9,350.4 357.2,346.4 361.8,346.4"/>
<polygon class="m" points="365,362.8 362.7,366.8 358.1,366.8 355.7,362.8 358.1,358.8 362.7,358.8"/>
<polygon class="m" points="366.3,357.3 363.9,361.3 359.3,361.3 357,357.3 359.3,353.3 363.9,353.3"/>
<polygon class="m" points="363.7,344.3 368.1,347.4 366.4,352.6 361,352.6 359.3,347.4"/>
<polygon class="m" points="368.8,341 366.5,345 361.9,345 359.6,341 361.9,337 366.5,337"/>
<polygon class="m" points="364.5,328.8 368.9,332 367.3,337.2 361.8,337.2 360.2,332"/>
<polygon class="m" points="365.3,355.6 369.5,362.9 361.1,362.9"/>
<polygon class="m" points="370.6,324.6 365.9,329.3 361.2,324.6 365.9,320"/>
<polygon class="m" points="368.2,337.4 372.5,340.6 370.9,345.8 365.5,345.8 363.8,340.6"/>
<polygon class="m" points="372.9,346.3 370.6,350.3 366,350.3 363.7,346.3 366,342.3 370.6,342.3"/>
<polygon class="m" points="364.6,357.3 371.8,353.1 371.8,361.5"/>
<polygon class="m" points="368.9,329.2 373.3,332.4 371.6,337.6 366.2,337.6 364.6,332.4"/>
<polygon class="m" points="374.1,364.4 371.8,368.4 367.2,368.4 364.9,364.4 367.2,360.4 371.8,360.4"/>
<polygon class="m" points="375.2,325 372.9,329 368.3,329 366,325 368.3,321 372.9,321"/>
<polygon class="m" points="371.3,355.2 367.2,348 375.5,348"/>
<polygon class="m" points="376.9,330.6 374.6,334.6 370,334.6 367.7,330.6 370,326.6 374.6,326.6"/>
<polygon class="m" points="372.9,331.7 377.3,334.8 375.6,340 370.2,340 368.5,334.8"/>
<polygon class="m" points="378,365.3 375.7,369.2 371.1,369.2 368.8,365.3 371.1,361.3 375.7,361.3"/>
<polygon class="m" points="373.6,352.4 378,355.6 376.3,360.7 370.9,360.7 369.2,355.6"/>
<polygon class="m" points="378.8,326 376.5,330 371.9,330 369.6,326 371.9,322.1 376.5,322.1"/>
<polygon class="m" points="380,348.9 377.7,352.9 373,352.9 370.7,348.9 373,344.9 377.7,344.9"/>
<polygon class="m" points="376.2,337.2 380.4,344.5 372,344.5"/>
<polygon class="m" points="382.1,334.3 379.8,338.3 375.2,338.3 372.9,334.3 375.2,330.3 379.8,330.3"/>
<polygon class="m" points="374.1,364.2 381.4,360 381.4,368.4"/>
<polygon class="m" points="383.8,348.4 381.5,352.4 376.9,352.4 374.6,348.4 376.9,344.4 381.5,344.4"/>
<polygon class="m" points="379.6,352.3 384,355.5 382.3,360.6 376.9,360.6 375.2,355.5"/>
<polygon class="m" points="385.4,360.5 383.1,364.5 378.5,364.5 376.2,360.5 378.5,356.5 383.1,356.5"/>
<polygon class="m" points="381.5,349.5 385.7,356.7 377.3,356.7"/>
<polygon class="m" points="382.7,335.9 378.5,328.7 386.9,328.7"/>
<polygon class="m" points="383.3,348.2 379.1,341 387.5,341"/>
<polygon class="m" points="383.5,362.4 387.9,365.6 386.2,370.8 380.8,370.8 379.1,365.6"/>
<polygon class="m" points="388.1,335.9 385.8,339.9 381.2,339.9 378.9,335.9 381.2,332 385.8,332"/>
<polygon class="m" points="389.1,362.5 386.8,366.5 382.2,366.5 379.9,362.5 382.2,358.5 386.8,358.5"/>
<polygon class="m" points="389.7,348.6 387.4,352.5 382.8,352.5 380.5,348.6 382.8,344.6 387.4,344.6"/>
<polygon class="m" points="391.5,331.9 389.1,335.9 384.5,335.9 382.2,331.9 384.5,328 389.1,328"/>
<polygon class="m" points="387.1,361 391.5,364.2 389.8,369.3 384.4,369.3 382.7,364.2"/>
<polygon class="m" points="391.8,339.4 389.5,343.4 384.8,343.4 382.5,339.4 384.8,335.4 389.5,335.4"/>
<polygon class="m" points="393,361.6 390.7,365.5 386,365.5 383.7,361.6 386,357.6 390.7,357.6"/>
<polygon class="m" points="393.6,353.5 391.3,357.5 386.7,357.5 384.4,353.5 386.7,349.5 391.3,349.5"/>
<polygon class="m" points="394.6,369.7 392.3,373.7 387.7,373.7 385.4,369.7 387.7,365.7 392.3,365.7"/>
<polygon class="m" points="391,332.3 395.4,335.4 393.7,340.6 388.3,340.6 386.6,335.4"/>
<polygon class="m" points="391.6,350.7 387.4,343.5 395.8,343.5"/>
<polygon class="m" points="392.3,351.8 396.7,355 395.1,360.2 389.6,360.2 388,355"/>
<polygon class="m" points="397.4,329 395.1,333 390.5,333 388.1,329 390.5,325 395.1,325"/>
<polygon class="m" points="397.4,351.6 395.1,355.6 390.5,355.6 388.2,351.6 390.5,347.6 395.1,347.6"/>
<polygon class="m" points="398.6,342.3 396.3,346.3 391.7,346.3 389.4,342.3 391.7,338.3 396.3,338.3"/>
<polygon class="m" points="399.2,370.4 396.9,374.4 392.3,374.4 390,370.4 392.3,366.5 396.9,366.5"/>
<polygon class="m" points="394.7,358.4 399.1,361.6 397.5,366.7 392,366.7 390.4,361.6"/>
<polygon class="m" points="400.7,355.4 398.4,359.4 393.8,359.4 391.5,355.4 393.8,351.4 398.4,351.4"/>
<polygon class="m" points="401,337.3 398.7,341.3 394.1,341.3 391.8,337.3 394.1,333.3 398.7,333.3"/>
<polygon class="m" points="401.4,349 399.1,353 394.4,353 392.1,349 394.4,345 399.1,345"/>
<polygon class="m" points="401.6,330.2 399.3,334.2 394.7,334.2 392.4,330.2 394.7,326.2 399.3,326.2"/>
<polygon class="m" points="397.2,362 401.6,365.2 399.9,370.3 394.5,370.3 392.8,365.2"/>
<polygon class="m" points="402.5,341.4 397.8,346.1 393.1,341.4 397.8,336.7"/>
<polygon class="m" points="403.1,362.6 400.8,366.6 396.2,366.6 393.9,362.6 396.2,358.7 400.8,358.7"/>
<polygon class="m" points="403.2,371.7 400.9,375.7 396.3,375.7 394,371.7 396.3,367.7 400.9,367.7"/>
<polygon class="m" points="404.9,336.6 402.6,340.6 398,340.6 395.7,336.6 398,332.6 402.6,332.6"/>
<polygon class="m" points="405.1,356.7 400.4,361.3 395.7,356.7 400.4,352"/>
<polygon class="m" points="402.1,355.8 406.5,359 404.8,364.2 399.4,364.2 397.7,359"/>
<polygon class="m" points="407.1,366.6 404.8,370.6 400.2,370.6 397.9,366.6 400.2,362.6 404.8,362.6"/>
<polygon class="m" points="407.6,344.2 405.3,348.2 400.7,348.2 398.4,344.2 400.7,340.3 405.3,340.3"/>
<polygon class="m" points="408.2,334.8 405.9,338.8 401.3,338.8 399,334.8 401.3,330.9 405.9,330.9"/>
<polygon class="m" points="404.6,349.4 409,352.6 407.3,357.7 401.9,357.7 400.2,352.6"/>
<polygon class="m" points="406.7,332.1 411.1,335.3 409.4,340.4 404,340.4 402.3,335.3"/>
<polygon class="m" points="411.5,367.3 409.2,371.3 404.6,371.3 402.3,367.3 404.6,363.3 409.2,363.3"/>
<polygon class="m" points="412,371.9 409.7,375.9 405.1,375.9 402.8,371.9 405.1,367.9 409.7,367.9"/>
<polygon class="m" points="407.8,362.6 403.6,355.4 412,355.4"/>
<polygon class="m" points="414.8,355.2 412.5,359.2 407.9,359.2 405.6,355.2 407.9,351.2 412.5,351.2"/>
<polygon class="m" points="415.3,363 413,367 408.3,367 406,363 408.3,359 413,359"/>
<polygon class="m" points="415.5,343.1 413.2,347 408.5,347 406.2,343.1 408.5,339.1 413.2,339.1"/>
<polygon class="m" points="411.2,367.4 415.6,370.5 413.9,375.7 408.5,375.7 406.8,370.5"/>
<polygon class="m" points="408.5,338.6 415.7,334.5 415.7,342.8"/>
<polygon class="m" points="419.4,357.8 417.1,361.8 412.5,361.8 410.2,357.8 412.5,353.8 417.1,353.8"/>
<polygon class="m" points="420.1,341 417.8,345 413.2,345 410.9,341 413.2,337 417.8,337"/>
<polygon class="m" points="420.1,368.6 417.8,372.6 413.2,372.6 410.9,368.6 413.2,364.7 417.8,364.7"/>
<polygon class="m" points="412.3,349.5 419.5,345.3 419.5,353.7"/>
<polygon class="m" points="422.7,364.1 420.4,368.1 415.8,368.1 413.5,364.1 415.8,360.1 420.4,360.1"/>
<polygon class="m" points="418.8,350.2 414.6,343 423,343"/>
<polygon class="m" points="419.2,353.1 423.6,356.3 421.9,361.5 416.5,361.5 414.8,356.3"/>
<polygon class="m" points="426.4,370.9 424.1,374.9 419.5,374.9 417.2,370.9 419.5,366.9 424.1,366.9"/>
<polygon class="m" points="429,375.4 426.7,379.4 422.1,379.4 419.8,375.4 422.1,371.4 426.7,371.4"/>
<polygon class="m" points="433.6,337.6 431.3,341.5 426.7,341.5 424.4,337.6 426.7,333.6 431.3,333.6"/>
<polygon class="m" points="435.9,354.6 431.2,359.2 426.5,354.6 431.2,349.9"/>
<polygon class="m" points="429.2,342.7 436.4,338.5 436.4,346.9"/>
<polygon class="m" points="442.6,362.1 440.3,366.1 435.7,366.1 433.4,362.1 435.7,358.1 440.3,358.1"/>
<polygon class="m" points="438.3,350.8 442.6,354 441,359.1 435.5,359.1 433.9,354"/>
<polygon class="m" points="445.1,378.7 442.7,382.7 438.1,382.7 435.8,378.7 438.1,374.7 442.7,374.7"/>
<polygon class="m" points="445.1,351.6 442.8,355.6 438.2,355.6 435.9,351.6 438.2,347.6 442.8,347.6"/>
<polygon class="m" points="445.7,373.9 443.4,377.9 438.8,377.9 436.5,373.9 438.8,369.9 443.4,369.9"/>
<polygon class="m" points="448.5,356.4 446.2,360.4 441.6,360.4 439.3,356.4 441.6,352.4 446.2,352.4"/>
<polygon class="m" points="442.9,344.2 450.2,340 450.2,348.4"/>
<polygon class="m" points="452.1,362.6 449.8,366.6 445.2,366.6 442.9,362.6 445.2,358.6 449.8,358.6"/>
<polygon class="m" points="457.4,361.4 455.1,365.4 450.5,365.4 448.2,361.4 450.5,357.4 455.1,357.4"/>
<polygon class="m" points="457.6,343.9 455.3,347.9 450.7,347.9 448.4,343.9 450.7,339.9 455.3,339.9"/>
<polygon class="m" points="453.8,347.9 458.2,351.1 456.5,356.3 451.1,356.3 449.4,351.1"/>
<polygon class="m" points="458.6,380.6 456.3,384.6 451.7,384.6 449.4,380.6 451.7,376.6 456.3,376.6"/>
<polygon class="m" points="455.5,368.1 459.8,371.3 458.2,376.5 452.8,376.5 451.1,371.3"/>
<polygon class="m" points="461.2,376.6 458.8,380.6 454.2,380.6 451.9,376.6 454.2,372.6 458.8,372.6"/>
<polygon class="m" points="462.9,353 460.6,357 456,357 453.7,353 456,349 460.6,349"/>
<polygon class="m" points="460.6,384 456.4,376.8 464.8,376.8"/>
<polygon class="m" points="468.7,369 466.4,373 461.7,373 459.4,369 461.7,365 466.4,365"/>
<polygon class="m" points="465.5,354.2 469.9,357.4 468.2,362.5 462.8,362.5 461.1,357.4"/>
<polygon class="m" points="466.2,381.1 462,373.9 470.4,373.9"/>
<polygon class="m" points="471,362.5 468.7,366.4 464.1,366.4 461.8,362.5 464.1,358.5 468.7,358.5"/>
<polygon class="m" points="467.4,349.3 471.6,356.6 463.2,356.6"/>
<polygon class="m" points="467.6,376.5 471.9,379.6 470.3,384.8 464.9,384.8 463.2,379.6"/>
<polygon class="m" points="474.9,369.7 472.6,373.7 468,373.7 465.7,369.7 468,365.7 472.6,365.7"/>
<polygon class="m" points="469.9,350.2 477.1,346 477.1,354.4"/>
<polygon class="m" points="474.6,376.9 479,380.1 477.3,385.3 471.9,385.3 470.3,380.1"/>
<polygon class="m" points="477.4,364.5 481.8,367.7 480.1,372.8 474.7,372.8 473,367.7"/>
<polygon class="m" points="483,377.3 478.3,382 473.7,377.3 478.3,372.6"/>
<polygon class="m" points="483.3,358.6 478.7,363.3 474,358.6 478.7,353.9"/>
<polygon class="m" points="483.3,362.8 481,366.8 476.4,366.8 474.1,362.8 476.4,358.8 481,358.8"/>
<polygon class="m" points="483.2,364.4 487.6,367.6 485.9,372.8 480.5,372.8 478.8,367.6"/>
<polygon class="m" points="488.7,350 486.4,354 481.8,354 479.5,350 481.8,346 486.4,346"/>
<polygon class="m" points="485.7,361.2 490.1,364.4 488.4,369.5 483,369.5 481.4,364.4"/>
<polygon class="m" points="490.6,371.9 488.3,375.9 483.6,375.9 481.3,371.9 483.6,367.9 488.3,367.9"/>
<polygon class="m" points="485.1,352.6 492.4,348.4 492.4,356.8"/>
<polygon class="m" points="490.5,363.2 494.9,366.4 493.2,371.5 487.8,371.5 486.1,366.4"/>
<polygon class="m" points="234.1,334.5 231.8,338.4 227.2,338.4 224.9,334.5 227.2,330.6 231.8,330.6"/>
<polygon class="m" points="258.4,344.5 256.1,348.4 251.5,348.4 249.2,344.5 251.5,340.6 256.1,340.6"/>
<polygon class="m" points="286.2,348.6 283.9,352.5 279.3,352.5 277,348.6 279.3,344.7 283.9,344.7"/>
<polygon class="m" points="133.2,297.5 130.9,301.4 126.3,301.4 124,297.5 126.3,293.6 130.9,293.6"/>
<polygon class="m" points="202.6,319 200.3,322.9 195.7,322.9 193.4,319 195.7,315.1 200.3,315.1"/>
<polygon class="m" points="106.6,203 104.3,206.9 99.7,206.9 97.4,203 99.7,199.1 104.3,199.1"/>
<polygon class="m" points="111.2,210 108.9,213.9 104.3,213.9 102,210 104.3,206.1 108.9,206.1"/>
<polygon class="m" points="96.7,220.3 89.2,224.6 89.2,216"/>
<polygon class="m" points="101.4,232.5 93.9,236.8 93.9,228.2"/>
<polygon class="m" points="114.7,214 110.4,206.5 119,206.5"/>
<polygon class="m" points="122.8,225.5 118.5,218 127.1,218"/>
<polygon class="m" points="139.5,218.7 137.2,222.6 132.6,222.6 130.3,218.7 132.6,214.8 137.2,214.8"/>
<polygon class="m" points="157.1,211 154.8,214.9 150.2,214.9 147.9,211 150.2,207.1 154.8,207.1"/>
<polygon class="m" points="171.4,218.7 169.1,222.6 164.5,222.6 162.2,218.7 164.5,214.8 169.1,214.8"/>
<polygon class="m" points="117.2,231.8 112.4,236.6 107.6,231.8 112.4,227"/>
<polygon class="m" points="117,231.8 114.7,235.7 110.1,235.7 107.8,231.8 110.1,227.9 114.7,227.9"/>
<polygon class="m" points="144.8,235.8 140.5,228.3 149.1,228.3"/>
<polygon class="m" points="191.4,234.3 189.1,238.2 184.5,238.2 182.2,234.3 184.5,230.4 189.1,230.4"/>
<polygon class="m" points="216.6,217.8 214.3,221.7 209.7,221.7 207.4,217.8 209.7,213.9 214.3,213.9"/>
<polygon class="m" points="234.6,226 232.3,229.9 227.7,229.9 225.4,226 227.7,222.1 232.3,222.1"/>
<polygon class="m" points="244.9,234.4 242.6,238.3 238,238.3 235.7,234.4 238,230.5 242.6,230.5"/>
<polygon class="m" points="250.4,249.8 248.1,253.7 243.5,253.7 241.2,249.8 243.5,245.9 248.1,245.9"/>
<polygon class="m" points="302,265.8 299.7,269.7 295.1,269.7 292.8,265.8 295.1,261.9 299.7,261.9"/>
<polygon class="m" points="283.1,281 280.8,284.9 276.2,284.9 273.9,281 276.2,277.1 280.8,277.1"/>
<polygon class="m" points="268,268.8 272.3,276.3 263.7,276.3"/>
<polygon class="m" points="231.8,279.6 227.5,272.1 236.1,272.1"/>
<polygon class="m" points="264.8,302.3 260.5,294.8 269.1,294.8"/>
<polygon class="m" points="283.6,289 287.9,296.5 279.3,296.5"/>
<polygon class="m" points="161,253 158.7,256.9 154.1,256.9 151.8,253 154.1,249.1 158.7,249.1"/>
<polygon class="m" points="160,246 164.3,253.5 155.7,253.5"/>
<polygon class="m" points="152.9,260 150.6,263.9 146,263.9 143.7,260 146,256.1 150.6,256.1"/>
<polygon class="m" points="192.3,249.7 190,253.6 185.4,253.6 183.1,249.7 185.4,245.8 190,245.8"/>
<polygon class="m" points="190,256 185.7,248.5 194.3,248.5"/>
<polygon class="m" points="187.6,248 185.3,251.9 180.7,251.9 178.4,248 180.7,244.1 185.3,244.1"/>
<polygon class="m" points="322.8,309 327.1,316.5 318.5,316.5"/>
<polygon class="m" points="403.6,321.9 407.9,329.4 399.3,329.4"/>
<polygon class="m" points="351.4,296.8 349.1,300.7 344.5,300.7 342.2,296.8 344.5,292.9 349.1,292.9"/>
<polygon class="m" points="485.6,371.4 483.3,375.3 478.7,375.3 476.4,371.4 478.7,367.5 483.3,367.5"/>
<polygon class="m" points="474.6,357 472.3,360.9 467.7,360.9 465.4,357 467.7,353.1 472.3,353.1"/>
<polygon class="m" points="469.6,370 467.3,373.9 462.7,373.9 460.4,370 462.7,366.1 467.3,366.1"/>
</g>
<path class="stemA" d="M283.6 298 V309"/>
<g class="gr">
<rect class="m" x="168.2" y="73.6" width="8.8" height="8.8"/>
<rect class="m" x="216.6" y="122.4" width="8.8" height="8.8"/>
<rect class="m" x="255.8" y="149.5" width="8.8" height="8.8"/>
<rect class="m" x="275.2" y="180.1" width="8.8" height="8.8"/>
<rect class="m" x="360.1" y="212.1" width="8.8" height="8.8"/>
<rect class="m" x="376" y="243.7" width="8.8" height="8.8"/>
<rect class="m" x="422" y="267" width="8.8" height="8.8"/>
<rect class="m" x="438.5" y="284.6" width="8.8" height="8.8"/>
<polygon class="m" points="213.3,60.1 222.6,54.7 222.6,65.5"/>
<polygon class="m" points="240.1,92.1 249.4,86.7 249.4,97.5"/>
<polygon class="m" points="250.6,122 259.9,116.6 259.9,127.4"/>
<polygon class="m" points="277.4,154.3 286.7,148.9 286.7,159.7"/>
<polygon class="m" points="322.8,187 332.1,181.6 332.1,192.4"/>
<polygon class="m" points="326.5,219 335.8,213.6 335.8,224.4"/>
<polygon class="m" points="354.3,234.2 363.6,228.8 363.6,239.6"/>
<polygon class="m" points="365.6,250.6 374.9,245.2 374.9,256"/>
<polygon class="m" points="388.9,265.8 398.2,260.4 398.2,271.2"/>
<polygon class="m" points="412.4,280.4 421.7,275 421.7,285.8"/>
<polygon class="m" points="427,280.4 436.3,275 436.3,285.8"/>
<polygon class="m" points="431.3,296 440.6,290.6 440.6,301.4"/>
<polygon class="m" points="459.1,303.5 468.4,298.1 468.4,308.9"/>
<polygon class="m" points="170.5,156 164.5,162 158.5,156 164.5,150"/>
<polygon class="m" points="242.8,155.6 236.8,161.6 230.8,155.6 236.8,149.6"/>
<polygon class="m" points="253.9,195 247.9,201 241.9,195 247.9,189"/>
<polygon class="m" points="282.3,195 276.3,201 270.3,195 276.3,189"/>
<polygon class="m" points="303.7,194.7 297.7,200.7 291.7,194.7 297.7,188.7"/>
<polygon class="m" points="315.5,194.7 309.5,200.7 303.5,194.7 309.5,188.7"/>
<polygon class="m" points="336.4,234.2 330.4,240.2 324.4,234.2 330.4,228.2"/>
<polygon class="m" points="356.6,234.2 350.6,240.2 344.6,234.2 350.6,228.2"/>
<polygon class="m" points="352.8,281 346.8,287 340.8,281 346.8,275"/>
<polygon class="m" points="444.6,313 438.6,319 432.6,313 438.6,307"/>
<polygon class="m" points="451.5,313 445.5,319 439.5,313 445.5,307"/>
<polygon class="m" points="477.2,343.8 471.2,349.8 465.2,343.8 471.2,337.8"/>
<polygon class="m" points="482.5,343.8 476.5,349.8 470.5,343.8 476.5,337.8"/>
<polygon class="m" points="270.4,161.8 265,152.5 275.8,152.5"/>
<polygon class="m" points="340.5,239.4 335.1,230.1 345.9,230.1"/>
<polygon class="m" points="347.5,239.4 342.1,230.1 352.9,230.1"/>
<polygon class="m" points="207,180.2 212.4,189.5 201.6,189.5"/>
<polygon class="m" points="230,213.1 235.4,222.4 224.6,222.4"/>
<polygon class="m" points="333,274.3 338.4,283.6 327.6,283.6"/>
<polygon class="m" points="346.8,291.3 352.2,300.6 341.4,300.6"/>
<polygon class="m" points="452.8,329.8 458.2,339.1 447.4,339.1"/>
<polygon class="m" points="463.6,298.8 469,308.1 458.2,308.1"/>
</g>
<g class="osA">
<polygon class="m" points="133.3,147 135.3,152.4 141.1,152.7 136.6,156.3 138.1,161.8 133.3,158.6 128.5,161.8 130,156.3 125.5,152.7 131.3,152.4"/>
<polygon class="m" points="154,146.8 156,152.2 161.8,152.5 157.3,156.1 158.8,161.6 154,158.4 149.2,161.6 150.7,156.1 146.2,152.5 152,152.2"/>
<polygon class="m" points="158,146.4 160,151.8 165.8,152.1 161.3,155.7 162.8,161.2 158,158 153.2,161.2 154.7,155.7 150.2,152.1 156,151.8"/>
<polygon class="m" points="154,186 156,191.4 161.8,191.7 157.3,195.3 158.8,200.8 154,197.6 149.2,200.8 150.7,195.3 146.2,191.7 152,191.4"/>
<polygon class="m" points="191,186 193,191.4 198.8,191.7 194.3,195.3 195.8,200.8 191,197.6 186.2,200.8 187.7,195.3 183.2,191.7 189,191.4"/>
<polygon class="m" points="251,224.8 253,230.2 258.8,230.5 254.3,234.1 255.8,239.6 251,236.4 246.2,239.6 247.7,234.1 243.2,230.5 249,230.2"/>
<polygon class="m" points="273.8,224.4 275.8,229.8 281.6,230.1 277.1,233.7 278.6,239.2 273.8,236 269,239.2 270.5,233.7 266,230.1 271.8,229.8"/>
<polygon class="m" points="327.2,255.8 329.2,261.2 335,261.5 330.5,265.1 332,270.6 327.2,267.4 322.4,270.6 323.9,265.1 319.4,261.5 325.2,261.2"/>
<polygon class="m" points="309,272 311,277.4 316.8,277.7 312.3,281.3 313.8,286.8 309,283.6 304.2,286.8 305.7,281.3 301.2,277.7 307,277.4"/>
<polygon class="m" points="321,271.8 323,277.2 328.8,277.5 324.3,281.1 325.8,286.6 321,283.4 316.2,286.6 317.7,281.1 313.2,277.5 319,277.2"/>
<polygon class="m" points="322,288.3 324,293.7 329.8,294 325.3,297.6 326.8,303.1 322,299.9 317.2,303.1 318.7,297.6 314.2,294 320,293.7"/>
<polygon class="m" points="409.3,256.1 411.3,261.5 417.1,261.8 412.6,265.4 414.1,270.9 409.3,267.7 404.5,270.9 406,265.4 401.5,261.8 407.3,261.5"/>
<polygon class="m" points="402,288.6 404,294 409.8,294.3 405.3,297.9 406.8,303.4 402,300.2 397.2,303.4 398.7,297.9 394.2,294.3 400,294"/>
<polygon class="m" points="415,289.4 417,294.8 422.8,295.1 418.3,298.7 419.8,304.2 415,301 410.2,304.2 411.7,298.7 407.2,295.1 413,294.8"/>
<polygon class="m" points="390.5,303.4 392.5,308.8 398.3,309.1 393.8,312.7 395.3,318.2 390.5,315 385.7,318.2 387.2,312.7 382.7,309.1 388.5,308.8"/>
<polygon class="m" points="418.6,303.8 420.6,309.2 426.4,309.5 421.9,313.1 423.4,318.6 418.6,315.4 413.8,318.6 415.3,313.1 410.8,309.5 416.6,309.2"/>
<polygon class="m" points="455.2,302.6 457.2,308 463,308.3 458.5,311.9 460,317.4 455.2,314.2 450.4,317.4 451.9,311.9 447.4,308.3 453.2,308"/>
<polygon class="m" points="473.3,319.4 475.3,324.8 481.1,325.1 476.6,328.7 478.1,334.2 473.3,331 468.5,334.2 470,328.7 465.5,325.1 471.3,324.8"/>
</g>
<g class="fsA">
<polygon class="m" points="280,241.9 282,247.2 287.7,247.5 283.2,251.1 284.8,256.6 280,253.4 275.2,256.6 276.8,251.1 272.3,247.5 278,247.2"/>
<polygon class="m" points="284,241.3 286,246.6 291.7,246.9 287.2,250.5 288.8,256 284,252.8 279.2,256 280.8,250.5 276.3,246.9 282,246.6"/>
<polygon class="m" points="288,242.1 290,247.4 295.7,247.7 291.2,251.3 292.8,256.8 288,253.6 283.2,256.8 284.8,251.3 280.3,247.7 286,247.4"/>
<polygon class="m" points="292,241.3 294,246.6 299.7,246.9 295.2,250.5 296.8,256 292,252.8 287.2,256 288.8,250.5 284.3,246.9 290,246.6"/>
<polygon class="m" points="296,241.9 298,247.2 303.7,247.5 299.2,251.1 300.8,256.6 296,253.4 291.2,256.6 292.8,251.1 288.3,247.5 294,247.2"/>
<polygon class="m" points="300,241.4 302,246.7 307.7,247 303.2,250.6 304.8,256.1 300,252.9 295.2,256.1 296.8,250.6 292.3,247 298,246.7"/>
<polygon class="m" points="386,285.2 388,290.5 393.7,290.8 389.2,294.4 390.8,299.9 386,296.7 381.2,299.9 382.8,294.4 378.3,290.8 384,290.5"/>
<polygon class="m" points="409.5,284.1 411.5,289.4 417.2,289.7 412.7,293.3 414.3,298.8 409.5,295.6 404.7,298.8 406.3,293.3 401.8,289.7 407.5,289.4"/>
<polygon class="m" points="416.5,284.5 418.5,289.8 424.2,290.1 419.7,293.7 421.3,299.2 416.5,296 411.7,299.2 413.3,293.7 408.8,290.1 414.5,289.8"/>
<polygon class="m" points="468.2,306.4 470.1,311.4 475.4,311.7 471.2,315 472.6,320.1 468.2,317.2 463.8,320.1 465.2,315 461,311.7 466.3,311.4"/>
<polygon class="m" points="468.8,310.4 470.7,315.4 476,315.7 471.8,319 473.2,324.1 468.8,321.2 464.4,324.1 465.8,319 461.6,315.7 466.9,315.4"/>
<polygon class="m" points="468,314.4 469.9,319.4 475.2,319.7 471,323 472.4,328.1 468,325.2 463.6,328.1 465,323 460.8,319.7 466.1,319.4"/>
<polygon class="m" points="468.6,317.9 470.5,322.9 475.8,323.2 471.6,326.5 473,331.6 468.6,328.7 464.2,331.6 465.6,326.5 461.4,323.2 466.7,322.9"/>
</g>
<path d="M485.5 315.5 H499" stroke="#2f9aa6" stroke-width="1.3" fill="none"/><polygon points="504,315.5 497,312.5 497,318.5" fill="#2f9aa6"/>
<path d="M485.5 327.8 H499" stroke="#3f86c6" stroke-width="1.3" fill="none"/><polygon points="504,327.8 497,324.8 497,330.8" fill="#3f86c6"/>
<path d="M485.5 344.5 H499" stroke="#8c8c8c" stroke-width="1.3" fill="none"/><polygon points="504,344.5 497,341.5 497,347.5" fill="#8c8c8c"/>
<path d="M484 370.5 H499" stroke="#b4b8bb" stroke-width="1.3" fill="none"/><polygon points="504,370.5 497,367.5 497,373.5" fill="#b4b8bb"/>
<rect class="frame" x="83.5" y="25" width="438.5" height="397"/>
<path class="tick" d="M83.5 390.9h6.5M83.5 312.4h6.5M83.5 233.9h6.5M83.5 155.3h6.5M83.5 76.8h6.5M89.4 422v-3.2M95.1 422v-3.2M100.2 422v-6.5M133.8 422v-3.2M153.5 422v-3.2M167.5 422v-3.2M178.3 422v-3.2M187.1 422v-3.2M194.6 422v-3.2M201.1 422v-3.2M206.8 422v-3.2M211.9 422v-6.5M245.5 422v-3.2M265.2 422v-3.2M279.2 422v-3.2M290 422v-3.2M298.8 422v-3.2M306.3 422v-3.2M312.8 422v-3.2M318.5 422v-3.2M323.6 422v-6.5M357.2 422v-3.2M376.9 422v-3.2M390.9 422v-3.2M401.7 422v-3.2M410.5 422v-3.2M418 422v-3.2M424.5 422v-3.2M430.2 422v-3.2M435.3 422v-6.5M468.9 422v-3.2M488.6 422v-3.2M502.6 422v-3.2M513.4 422v-3.2"/>
<text class="tl" x="58.8" y="395.3" textLength="15.5" lengthAdjust="spacingAndGlyphs">50</text>
<text class="tl" x="51" y="316.8" textLength="23.3" lengthAdjust="spacingAndGlyphs">100</text>
<text class="tl" x="51" y="238.3" textLength="23.3" lengthAdjust="spacingAndGlyphs">150</text>
<text class="tl" x="51" y="159.7" textLength="23.3" lengthAdjust="spacingAndGlyphs">200</text>
<text class="tl" x="51" y="81.2" textLength="23.3" lengthAdjust="spacingAndGlyphs">250</text>
<text class="tl" x="90.4" y="439.6"><tspan textLength="13.6" lengthAdjust="spacingAndGlyphs">10</tspan><tspan class="sup" x="105.6" y="433.3">4</tspan></text>
<text class="tl" x="202.1" y="439.6"><tspan textLength="13.6" lengthAdjust="spacingAndGlyphs">10</tspan><tspan class="sup" x="217.3" y="433.3">5</tspan></text>
<text class="tl" x="313.8" y="439.6"><tspan textLength="13.6" lengthAdjust="spacingAndGlyphs">10</tspan><tspan class="sup" x="329" y="433.3">6</tspan></text>
<text class="tl" x="425.5" y="439.6"><tspan textLength="13.6" lengthAdjust="spacingAndGlyphs">10</tspan><tspan class="sup" x="440.7" y="433.3">7</tspan></text>
<text class="nf" x="293.2" y="462.7">N<tspan class="nfs" x="304.6" y="466.6">f</tspan></text>
<text class="al" transform="translate(33.6 227) rotate(-90)" text-anchor="middle" textLength="85" lengthAdjust="spacingAndGlyphs">Δ<tspan class="it">σ</tspan>/2 (MPa)</text>
<text class="pl" x="19.3" y="34.2">a</text>
<text class="an" x="87" y="127.5" textLength="127" lengthAdjust="spacingAndGlyphs">Ultrafine-grained Cu</text>
<text class="an" x="308.3" y="396" textLength="117.5" lengthAdjust="spacingAndGlyphs">Coarse-grained Cu</text>
<polygon class="fsL" points="312.6,45 314.7,50.7 320.8,50.9 316,54.7 317.7,60.6 312.6,57.2 307.5,60.6 309.2,54.7 304.4,50.9 310.5,50.7"/>
<polygon class="osL" points="312.6,72.4 314.7,78.1 320.8,78.3 316,82.1 317.7,88 312.6,84.6 307.5,88 309.2,82.1 304.4,78.3 310.5,78.1"/>
<text class="lg" x="329.5" y="58.6" textLength="187" lengthAdjust="spacingAndGlyphs">Gradient nanograined Cu</text>
<text class="lg" x="329.5" y="86" textLength="123.6" lengthAdjust="spacingAndGlyphs">Nanotwinned Cu</text>
</g>
<g id="panel-b">
<path class="bGrey" d="M605.5 51 L650 79.5 L708 118 L761 151.6 L800 176 L857 207 L920 245 L980 281 L1038 319 L1032 333 L1012 340 L960 313 L883 268 L827 245 L799 233 L770.5 214 L736 191 L720 176.5 L700.6 163.8 L650 123.4 L605.5 88Z"/>
<path class="bBlue2" d="M795 195 L816 200 L840 230 L862.5 257 L909 298.6 L960.5 329.5 L1007 350 L1022 365.7 L1030 396.6 L1038 412 L1027.5 409.5 L986 391 L934.7 360.5 L883 314 L850 285 L821 257 L803 225Z"/>
<path class="bBlue" d="M664 66.5 L693 60 L712 62 L760 120 L800 160 L850 205 L900 246 L960 290 L1010 318 L1026 338 L1012 340 L960 322 L905 298 L860 262 L825 232 L800 210 L770 180 L733 146 L700 105Z"/>
<path class="bBlue4" d="M693 60 L709 61.5 L759 128 L790 160 L830 200 L815 200 L780 165 L745 125 L715 90Z"/>
<path class="bBlue3" d="M728 66 L748 66 L764 84 L830 146 L880 192 L940 242 L1000 290 L1030 318 L1026 342 L1008 330 L960 296 L900 252 L860 216 L810 168 L776 128 L740 90Z"/>
<path class="bGreyLine" d="M605.5 51 L650 79.5 L708 118 L761 151.6 L800 176 L857 207 L920 245 L980 281 L1038 319 L1032 333 L1012 340 L960 313 L883 268 L827 245 L799 233 L770.5 214 L736 191 L720 176.5 L700.6 163.8 L650 123.4 L605.5 88Z"/>
<path class="bGreyLine2" d="M605.5 80 L650 115 L700.6 155.5 L736 184 L770.5 207 L799 226 L827 239 L883 262 L960 307 L1008 333"/>
<g class="gr2">
<polygon class="m" points="623.4,71.2 617.4,77.2 611.4,71.2 617.4,65.2"/>
<polygon class="m" points="646.9,71.2 637.6,76.6 637.6,65.8"/>
<polygon class="m" points="637.7,106.4 631.7,112.4 625.7,106.4 631.7,100.4"/>
<polygon class="m" points="680.5,106 671.2,111.4 671.2,100.6"/>
<polygon class="m" points="689.4,105.3 683.4,111.3 677.4,105.3 683.4,99.3"/>
<polygon class="m" points="691.4,112.2 682.1,117.6 682.1,106.8"/>
<polygon class="m" points="712.7,143.2 706.7,149.2 700.7,143.2 706.7,137.2"/>
<polygon class="m" points="725.2,149.9 715.9,155.3 715.9,144.5"/>
<polygon class="m" points="732.3,158.4 726.3,164.4 720.3,158.4 726.3,152.4"/>
<polygon class="m" points="736.2,167.9 726.9,173.3 726.9,162.5"/>
<polygon class="m" points="741.8,148.9 735.8,154.9 729.8,148.9 735.8,142.9"/>
<polygon class="m" points="752.8,173.2 746.8,179.2 740.8,173.2 746.8,167.2"/>
<polygon class="m" points="767.8,153.7 758.5,159.1 758.5,148.3"/>
<polygon class="m" points="854.6,222.8 848.6,228.8 842.6,222.8 848.6,216.8"/>
<polygon class="m" points="844.7,223 835.4,228.4 835.4,217.6"/>
<polygon class="m" points="906.7,231.7 897.4,237.1 897.4,226.3"/>
<polygon class="m" points="933.5,249.4 924.2,254.8 924.2,244"/>
<polygon class="m" points="956.2,269.9 946.9,275.3 946.9,264.5"/>
<polygon class="m" points="1040.9,323.8 1031.6,329.2 1031.6,318.4"/>
<polygon class="m" points="885.4,249.4 879.4,255.4 873.4,249.4 879.4,243.4"/>
<polygon class="m" points="901.8,249.4 895.8,255.4 889.8,249.4 895.8,243.4"/>
<polygon class="m" points="908.5,249.4 906.1,253.6 901.3,253.6 898.9,249.4 901.3,245.2 906.1,245.2"/>
<polygon class="m" points="923.6,270.5 921.2,274.7 916.4,274.7 914,270.5 916.4,266.3 921.2,266.3"/>
<polygon class="m" points="939.7,270.5 933.7,276.5 927.7,270.5 933.7,264.5"/>
<polygon class="m" points="915.2,301.5 909.2,307.5 903.2,301.5 909.2,295.5"/>
<polygon class="m" points="935.8,300 933.4,304.2 928.6,304.2 926.2,300 928.6,295.8 933.4,295.8"/>
<polygon class="m" points="1002.8,324.4 1000.4,328.6 995.6,328.6 993.2,324.4 995.6,320.2 1000.4,320.2"/>
<polygon class="m" points="1007.7,318.8 1013.1,328.1 1002.3,328.1"/>
<polygon class="m" points="1024.5,353.9 1022.1,358.1 1017.3,358.1 1014.9,353.9 1017.3,349.7 1022.1,349.7"/>
<polygon class="m" points="1029.7,354 1020.4,359.4 1020.4,348.6"/>
</g>
<g class="lb2">
<polygon class="m" points="803.5,190.8 808.9,200.1 798.1,200.1"/>
<polygon class="m" points="813.5,198.3 818.9,207.6 808.1,207.6"/>
<polygon class="m" points="806,205.8 811.4,215.1 800.6,215.1"/>
<polygon class="m" points="829,232.8 834.4,242.1 823.6,242.1"/>
<polygon class="m" points="836,226.8 841.4,236.1 830.6,236.1"/>
<polygon class="m" points="868,262.8 873.4,272.1 862.6,272.1"/>
<polygon class="m" points="870.5,277 864.5,283 858.5,277 864.5,271"/>
<polygon class="m" points="676.2,70.5 670.2,76.5 664.2,70.5 670.2,64.5"/>
<polygon class="m" points="703,72.2 697.6,62.9 708.4,62.9"/>
<polygon class="m" points="773,151.9 767.6,142.6 778.4,142.6"/>
<polygon class="m" points="805.2,192.8 810.6,202.1 799.8,202.1"/>
<polygon class="m" points="811,192.8 816.4,202.1 805.6,202.1"/>
<polygon class="m" points="808,198.3 813.4,207.6 802.6,207.6"/>
<polygon class="m" points="816.3,206.8 821.7,216.1 810.9,216.1"/>
<polygon class="m" points="830.5,228.8 835.9,238.1 825.1,238.1"/>
<polygon class="m" points="831,229 836.4,238.3 825.6,238.3"/>
<polygon class="m" points="854.1,259 859.5,268.3 848.7,268.3"/>
<polygon class="m" points="876.2,257.4 881.6,266.7 870.8,266.7"/>
<polygon class="m" points="870.5,258.8 875.9,268.1 865.1,268.1"/>
<polygon class="m" points="855.4,289 860.8,298.3 850,298.3"/>
<polygon class="m" points="864.2,268.5 869.6,277.8 858.8,277.8"/>
<polygon class="m" points="864.2,286.8 858.8,277.5 869.6,277.5"/>
<polygon class="m" points="903.7,289 909.1,298.3 898.3,298.3"/>
<polygon class="m" points="863.3,249.4 860.9,253.6 856.1,253.6 853.7,249.4 856.1,245.2 860.9,245.2"/>
<polygon class="m" points="928.2,326.8 933.6,336.1 922.8,336.1"/>
<polygon class="m" points="939,326.8 944.4,336.1 933.6,336.1"/>
<polygon class="m" points="943.8,326.8 949.2,336.1 938.4,336.1"/>
<polygon class="m" points="950.3,326.8 955.7,336.1 944.9,336.1"/>
<polygon class="m" points="921.1,337.4 926.5,346.7 915.7,346.7"/>
<polygon class="m" points="931,338.8 936.4,348.1 925.6,348.1"/>
<polygon class="m" points="938.1,345.8 943.5,355.1 932.7,355.1"/>
<circle class="m" cx="943.2" cy="350.5" r="4.6"/>
<polygon class="m" points="952.3,369.6 946.9,360.3 957.7,360.3"/>
<polygon class="m" points="961.7,353.8 967.1,363.1 956.3,363.1"/>
<polygon class="m" points="969.4,353.8 974.8,363.1 964,363.1"/>
<polygon class="m" points="973.6,353.8 979,363.1 968.2,363.1"/>
<polygon class="m" points="979.9,353.8 985.3,363.1 974.5,363.1"/>
<circle class="m" cx="970.2" cy="376.1" r="4.6"/>
<polygon class="m" points="979.3,382.7 973.9,373.4 984.7,373.4"/>
<polygon class="m" points="998.6,396.9 993.2,387.6 1004,387.6"/>
<polygon class="m" points="1034.7,414.5 1029.3,405.2 1040.1,405.2"/>
<polygon class="m" points="1019.7,364.9 1025.1,374.2 1014.3,374.2"/>
<polygon class="m" points="1019.7,371.4 1025.1,380.7 1014.3,380.7"/>
</g>
<g class="osB">
<polygon class="m" points="690.8,65.5 692.8,70.8 698.4,71 694,74.5 695.5,80 690.8,76.9 686.1,80 687.6,74.5 683.2,71 688.8,70.8"/>
<polygon class="m" points="686.8,75.7 688.8,81 694.4,81.2 690,84.7 691.5,90.2 686.8,87.1 682.1,90.2 683.6,84.7 679.2,81.2 684.8,81"/>
<polygon class="m" points="709.3,63.2 711.3,68.5 716.9,68.7 712.5,72.2 714,77.7 709.3,74.6 704.6,77.7 706.1,72.2 701.7,68.7 707.3,68.5"/>
<polygon class="m" points="706,70.2 708,75.5 713.6,75.7 709.2,79.2 710.7,84.7 706,81.6 701.3,84.7 702.8,79.2 698.4,75.7 704,75.5"/>
<polygon class="m" points="725,103.5 727,108.8 732.6,109 728.2,112.5 729.7,118 725,114.9 720.3,118 721.8,112.5 717.4,109 723,108.8"/>
<polygon class="m" points="708.4,110.7 710.4,116 716,116.2 711.6,119.7 713.1,125.2 708.4,122.1 703.7,125.2 705.2,119.7 700.8,116.2 706.4,116"/>
<polygon class="m" points="762.1,122.7 764.1,128 769.7,128.2 765.3,131.7 766.8,137.2 762.1,134.1 757.4,137.2 758.9,131.7 754.5,128.2 760.1,128"/>
<polygon class="m" points="745.2,133 747.2,138.3 752.8,138.5 748.4,142 749.9,147.5 745.2,144.4 740.5,147.5 742,142 737.6,138.5 743.2,138.3"/>
<polygon class="m" points="751.5,139.3 753.5,144.6 759.1,144.8 754.7,148.3 756.2,153.8 751.5,150.7 746.8,153.8 748.3,148.3 743.9,144.8 749.5,144.6"/>
<polygon class="m" points="760.4,133 762.4,138.3 768,138.5 763.6,142 765.1,147.5 760.4,144.4 755.7,147.5 757.2,142 752.8,138.5 758.4,138.3"/>
<polygon class="m" points="742,148.8 744,154.1 749.6,154.3 745.2,157.8 746.7,163.3 742,160.2 737.3,163.3 738.8,157.8 734.4,154.3 740,154.1"/>
<polygon class="m" points="783.1,149.8 785.1,155.1 790.7,155.3 786.3,158.8 787.8,164.3 783.1,161.2 778.4,164.3 779.9,158.8 775.5,155.3 781.1,155.1"/>
<polygon class="m" points="794.2,155.1 796.2,160.4 801.8,160.6 797.4,164.1 798.9,169.6 794.2,166.5 789.5,169.6 791,164.1 786.6,160.6 792.2,160.4"/>
<polygon class="m" points="797.3,166.2 799.3,171.5 804.9,171.7 800.5,175.2 802,180.7 797.3,177.6 792.6,180.7 794.1,175.2 789.7,171.7 795.3,171.5"/>
<polygon class="m" points="798.9,174 800.9,179.3 806.5,179.5 802.1,183 803.6,188.5 798.9,185.4 794.2,188.5 795.7,183 791.3,179.5 796.9,179.3"/>
<polygon class="m" points="777.4,174.7 779.4,180 785,180.2 780.6,183.7 782.1,189.2 777.4,186.1 772.7,189.2 774.2,183.7 769.8,180.2 775.4,180"/>
<polygon class="m" points="831.4,174.7 833.4,180 839,180.2 834.6,183.7 836.1,189.2 831.4,186.1 826.7,189.2 828.2,183.7 823.8,180.2 829.4,180"/>
<polygon class="m" points="832.3,195.8 834.3,201.1 839.9,201.3 835.5,204.8 837,210.3 832.3,207.2 827.6,210.3 829.1,204.8 824.7,201.3 830.3,201.1"/>
<polygon class="m" points="853.2,199.3 855.2,204.6 860.8,204.8 856.4,208.3 857.9,213.8 853.2,210.7 848.5,213.8 850,208.3 845.6,204.8 851.2,204.6"/>
<polygon class="m" points="801.4,199.3 803.4,204.6 809,204.8 804.6,208.3 806.1,213.8 801.4,210.7 796.7,213.8 798.2,208.3 793.8,204.8 799.4,204.6"/>
<polygon class="m" points="805.2,205.6 807.2,210.9 812.8,211.1 808.4,214.6 809.9,220.1 805.2,217 800.5,220.1 802,214.6 797.6,211.1 803.2,210.9"/>
<polygon class="m" points="814.7,215.1 816.7,220.4 822.3,220.6 817.9,224.1 819.4,229.6 814.7,226.5 810,229.6 811.5,224.1 807.1,220.6 812.7,220.4"/>
<polygon class="m" points="833.6,207.2 835.6,212.5 841.2,212.7 836.8,216.2 838.3,221.7 833.6,218.6 828.9,221.7 830.4,216.2 826,212.7 831.6,212.5"/>
<polygon class="m" points="846.5,231.4 848.5,236.7 854.1,236.9 849.7,240.4 851.2,245.9 846.5,242.8 841.8,245.9 843.3,240.4 838.9,236.9 844.5,236.7"/>
<polygon class="m" points="860.7,231.4 862.7,236.7 868.3,236.9 863.9,240.4 865.4,245.9 860.7,242.8 856,245.9 857.5,240.4 853.1,236.9 858.7,236.7"/>
<polygon class="m" points="917.3,280.5 919.3,285.8 924.9,286 920.5,289.5 922,295 917.3,291.9 912.6,295 914.1,289.5 909.7,286 915.3,285.8"/>
<polygon class="m" points="920.3,293 922.3,298.3 927.9,298.5 923.5,302 925,307.5 920.3,304.4 915.6,307.5 917.1,302 912.7,298.5 918.3,298.3"/>
<polygon class="m" points="971.5,302.4 973.5,307.7 979.1,307.9 974.7,311.4 976.2,316.9 971.5,313.8 966.8,316.9 968.3,311.4 963.9,307.9 969.5,307.7"/>
<polygon class="m" points="982.4,302.4 984.4,307.7 990,307.9 985.6,311.4 987.1,316.9 982.4,313.8 977.7,316.9 979.2,311.4 974.8,307.9 980.4,307.7"/>
<polygon class="m" points="962.2,316.2 964.2,321.5 969.8,321.7 965.4,325.2 966.9,330.7 962.2,327.6 957.5,330.7 959,325.2 954.6,321.7 960.2,321.5"/>
<polygon class="m" points="982.7,316.2 984.7,321.5 990.3,321.7 985.9,325.2 987.4,330.7 982.7,327.6 978,330.7 979.5,325.2 975.1,321.7 980.7,321.5"/>
</g>
<polygon class="csB" points="920.3,292.7 922.3,298.2 928.2,298.4 923.6,302.1 925.2,307.7 920.3,304.5 915.4,307.7 917,302.1 912.4,298.4 918.3,298.2"/>
<polygon class="csB" points="803,202.1 805,207.6 810.9,207.8 806.3,211.5 807.9,217.1 803,213.9 798.1,217.1 799.7,211.5 795.1,207.8 801,207.6"/>
<g class="fsB">
<polygon class="m" points="731.5,65.4 733.3,70.3 738.5,70.5 734.4,73.8 735.8,78.8 731.5,75.9 727.2,78.8 728.6,73.8 724.5,70.5 729.7,70.3"/>
<polygon class="m" points="737.1,65.4 738.9,70.3 744.1,70.5 740,73.8 741.4,78.8 737.1,75.9 732.8,78.8 734.2,73.8 730.1,70.5 735.3,70.3"/>
<polygon class="m" points="746.4,78.2 748.2,83.1 753.4,83.3 749.3,86.6 750.7,91.6 746.4,88.7 742.1,91.6 743.5,86.6 739.4,83.3 744.6,83.1"/>
<polygon class="m" points="754,78.2 755.8,83.1 761,83.3 756.9,86.6 758.3,91.6 754,88.7 749.7,91.6 751.1,86.6 747,83.3 752.2,83.1"/>
<polygon class="m" points="810,146.3 811.8,151.2 817,151.4 812.9,154.7 814.3,159.7 810,156.8 805.7,159.7 807.1,154.7 803,151.4 808.2,151.2"/>
<polygon class="m" points="816.9,146.3 818.7,151.2 823.9,151.4 819.8,154.7 821.2,159.7 816.9,156.8 812.6,159.7 814,154.7 809.9,151.4 815.1,151.2"/>
<polygon class="m" points="868.6,200.3 870.4,205.2 875.6,205.4 871.5,208.7 872.9,213.7 868.6,210.8 864.3,213.7 865.7,208.7 861.6,205.4 866.8,205.2"/>
<polygon class="m" points="875.3,200.3 877.1,205.2 882.3,205.4 878.2,208.7 879.6,213.7 875.3,210.8 871,213.7 872.4,208.7 868.3,205.4 873.5,205.2"/>
<polygon class="m" points="968.4,278.9 970.2,283.8 975.4,284 971.3,287.3 972.7,292.3 968.4,289.4 964.1,292.3 965.5,287.3 961.4,284 966.6,283.8"/>
<polygon class="m" points="979.5,278.9 981.3,283.8 986.5,284 982.4,287.3 983.8,292.3 979.5,289.4 975.2,292.3 976.6,287.3 972.5,284 977.7,283.8"/>
<polygon class="m" points="1003.3,301.4 1005.1,306.3 1010.3,306.5 1006.2,309.8 1007.6,314.8 1003.3,311.9 999,314.8 1000.4,309.8 996.3,306.5 1001.5,306.3"/>
<polygon class="m" points="1015.7,315.3 1017.5,320.2 1022.7,320.4 1018.6,323.7 1020,328.7 1015.7,325.8 1011.4,328.7 1012.8,323.7 1008.7,320.4 1013.9,320.2"/>
<polygon class="m" points="1017.5,320.1 1019.3,325 1024.5,325.2 1020.4,328.5 1021.8,333.5 1017.5,330.6 1013.2,333.5 1014.6,328.5 1010.5,325.2 1015.7,325"/>
<polygon class="m" points="1019.5,324.1 1021.3,329 1026.5,329.2 1022.4,332.5 1023.8,337.5 1019.5,334.6 1015.2,337.5 1016.6,332.5 1012.5,329.2 1017.7,329"/>
<polygon class="m" points="1021.4,329.5 1023.2,334.4 1028.4,334.6 1024.3,337.9 1025.7,342.9 1021.4,340 1017.1,342.9 1018.5,337.9 1014.4,334.6 1019.6,334.4"/>
</g>
<rect class="frame2" x="605.5" y="23.2" width="452.7" height="398.5"/>
<path class="tick2" d="M605.5 42h4.2M605.5 62.5h4.2M605.5 86.6h4.2M605.5 116.2h4.2M605.5 154.3h4.2M605.5 208h4.2M605.5 299.8h8M605.5 313.8h4.2M605.5 329.4h4.2M605.5 347h4.2M605.5 367.5h4.2M605.5 391.6h4.2M609.8 421.7v-3.6M613.5 421.7v-8M638 421.7v-3.6M652.3 421.7v-3.6M662.5 421.7v-3.6M670.4 421.7v-3.6M676.8 421.7v-3.6M682.3 421.7v-3.6M687 421.7v-3.6M691.2 421.7v-3.6M694.9 421.7v-8M719.4 421.7v-3.6M733.7 421.7v-3.6M743.9 421.7v-3.6M751.8 421.7v-3.6M758.2 421.7v-3.6M763.7 421.7v-3.6M768.4 421.7v-3.6M772.6 421.7v-3.6M776.3 421.7v-8M800.8 421.7v-3.6M815.1 421.7v-3.6M825.3 421.7v-3.6M833.2 421.7v-3.6M839.6 421.7v-3.6M845.1 421.7v-3.6M849.8 421.7v-3.6M854 421.7v-3.6M857.7 421.7v-8M882.2 421.7v-3.6M896.5 421.7v-3.6M906.7 421.7v-3.6M914.6 421.7v-3.6M921 421.7v-3.6M926.5 421.7v-3.6M931.2 421.7v-3.6M935.4 421.7v-3.6M939.1 421.7v-8M963.6 421.7v-3.6M977.9 421.7v-3.6M988.1 421.7v-3.6M996 421.7v-3.6M1002.4 421.7v-3.6M1007.9 421.7v-3.6M1012.6 421.7v-3.6M1016.8 421.7v-3.6M1020.5 421.7v-8M1045 421.7v-3.6"/>
<text class="tl" x="577.8" y="90.2" textLength="20" lengthAdjust="spacingAndGlyphs">0.5</text>
<text class="tl" x="580" y="304.4" textLength="17.6" lengthAdjust="spacingAndGlyphs">0.1</text>
<text class="tl" x="604.9" y="439.6"><tspan textLength="13.6" lengthAdjust="spacingAndGlyphs">10</tspan><tspan class="sup" x="619.9" y="433.3">2</tspan></text>
<text class="tl" x="686.3" y="439.6"><tspan textLength="13.6" lengthAdjust="spacingAndGlyphs">10</tspan><tspan class="sup" x="701.3" y="433.3">3</tspan></text>
<text class="tl" x="767.7" y="439.6"><tspan textLength="13.6" lengthAdjust="spacingAndGlyphs">10</tspan><tspan class="sup" x="782.7" y="433.3">4</tspan></text>
<text class="tl" x="849.1" y="439.6"><tspan textLength="13.6" lengthAdjust="spacingAndGlyphs">10</tspan><tspan class="sup" x="864.1" y="433.3">5</tspan></text>
<text class="tl" x="930.5" y="439.6"><tspan textLength="13.6" lengthAdjust="spacingAndGlyphs">10</tspan><tspan class="sup" x="945.5" y="433.3">6</tspan></text>
<text class="tl" x="1011.9" y="439.6"><tspan textLength="13.6" lengthAdjust="spacingAndGlyphs">10</tspan><tspan class="sup" x="1026.9" y="433.3">7</tspan></text>
<text class="nf" x="823.4" y="462.7">N<tspan class="nfs" x="834.8" y="466.6">f</tspan></text>
<text class="al2" transform="translate(562.2 257) rotate(-90)" textLength="65" lengthAdjust="spacingAndGlyphs">Δ<tspan class="it">ε</tspan><tspan class="sub2" dy="3">t</tspan><tspan dy="-3">/2 (%)</tspan></text>
<text class="pl" x="548.6" y="34.2">b</text>
<text class="an" x="610.5" y="195" textLength="126.5" lengthAdjust="spacingAndGlyphs">Ultrafine-grained Cu</text>
<text class="an" x="838" y="401" textLength="121" lengthAdjust="spacingAndGlyphs" style="white-space:pre">Coarse-grained  Cu</text>
</g>
</svg>
</body></html>
